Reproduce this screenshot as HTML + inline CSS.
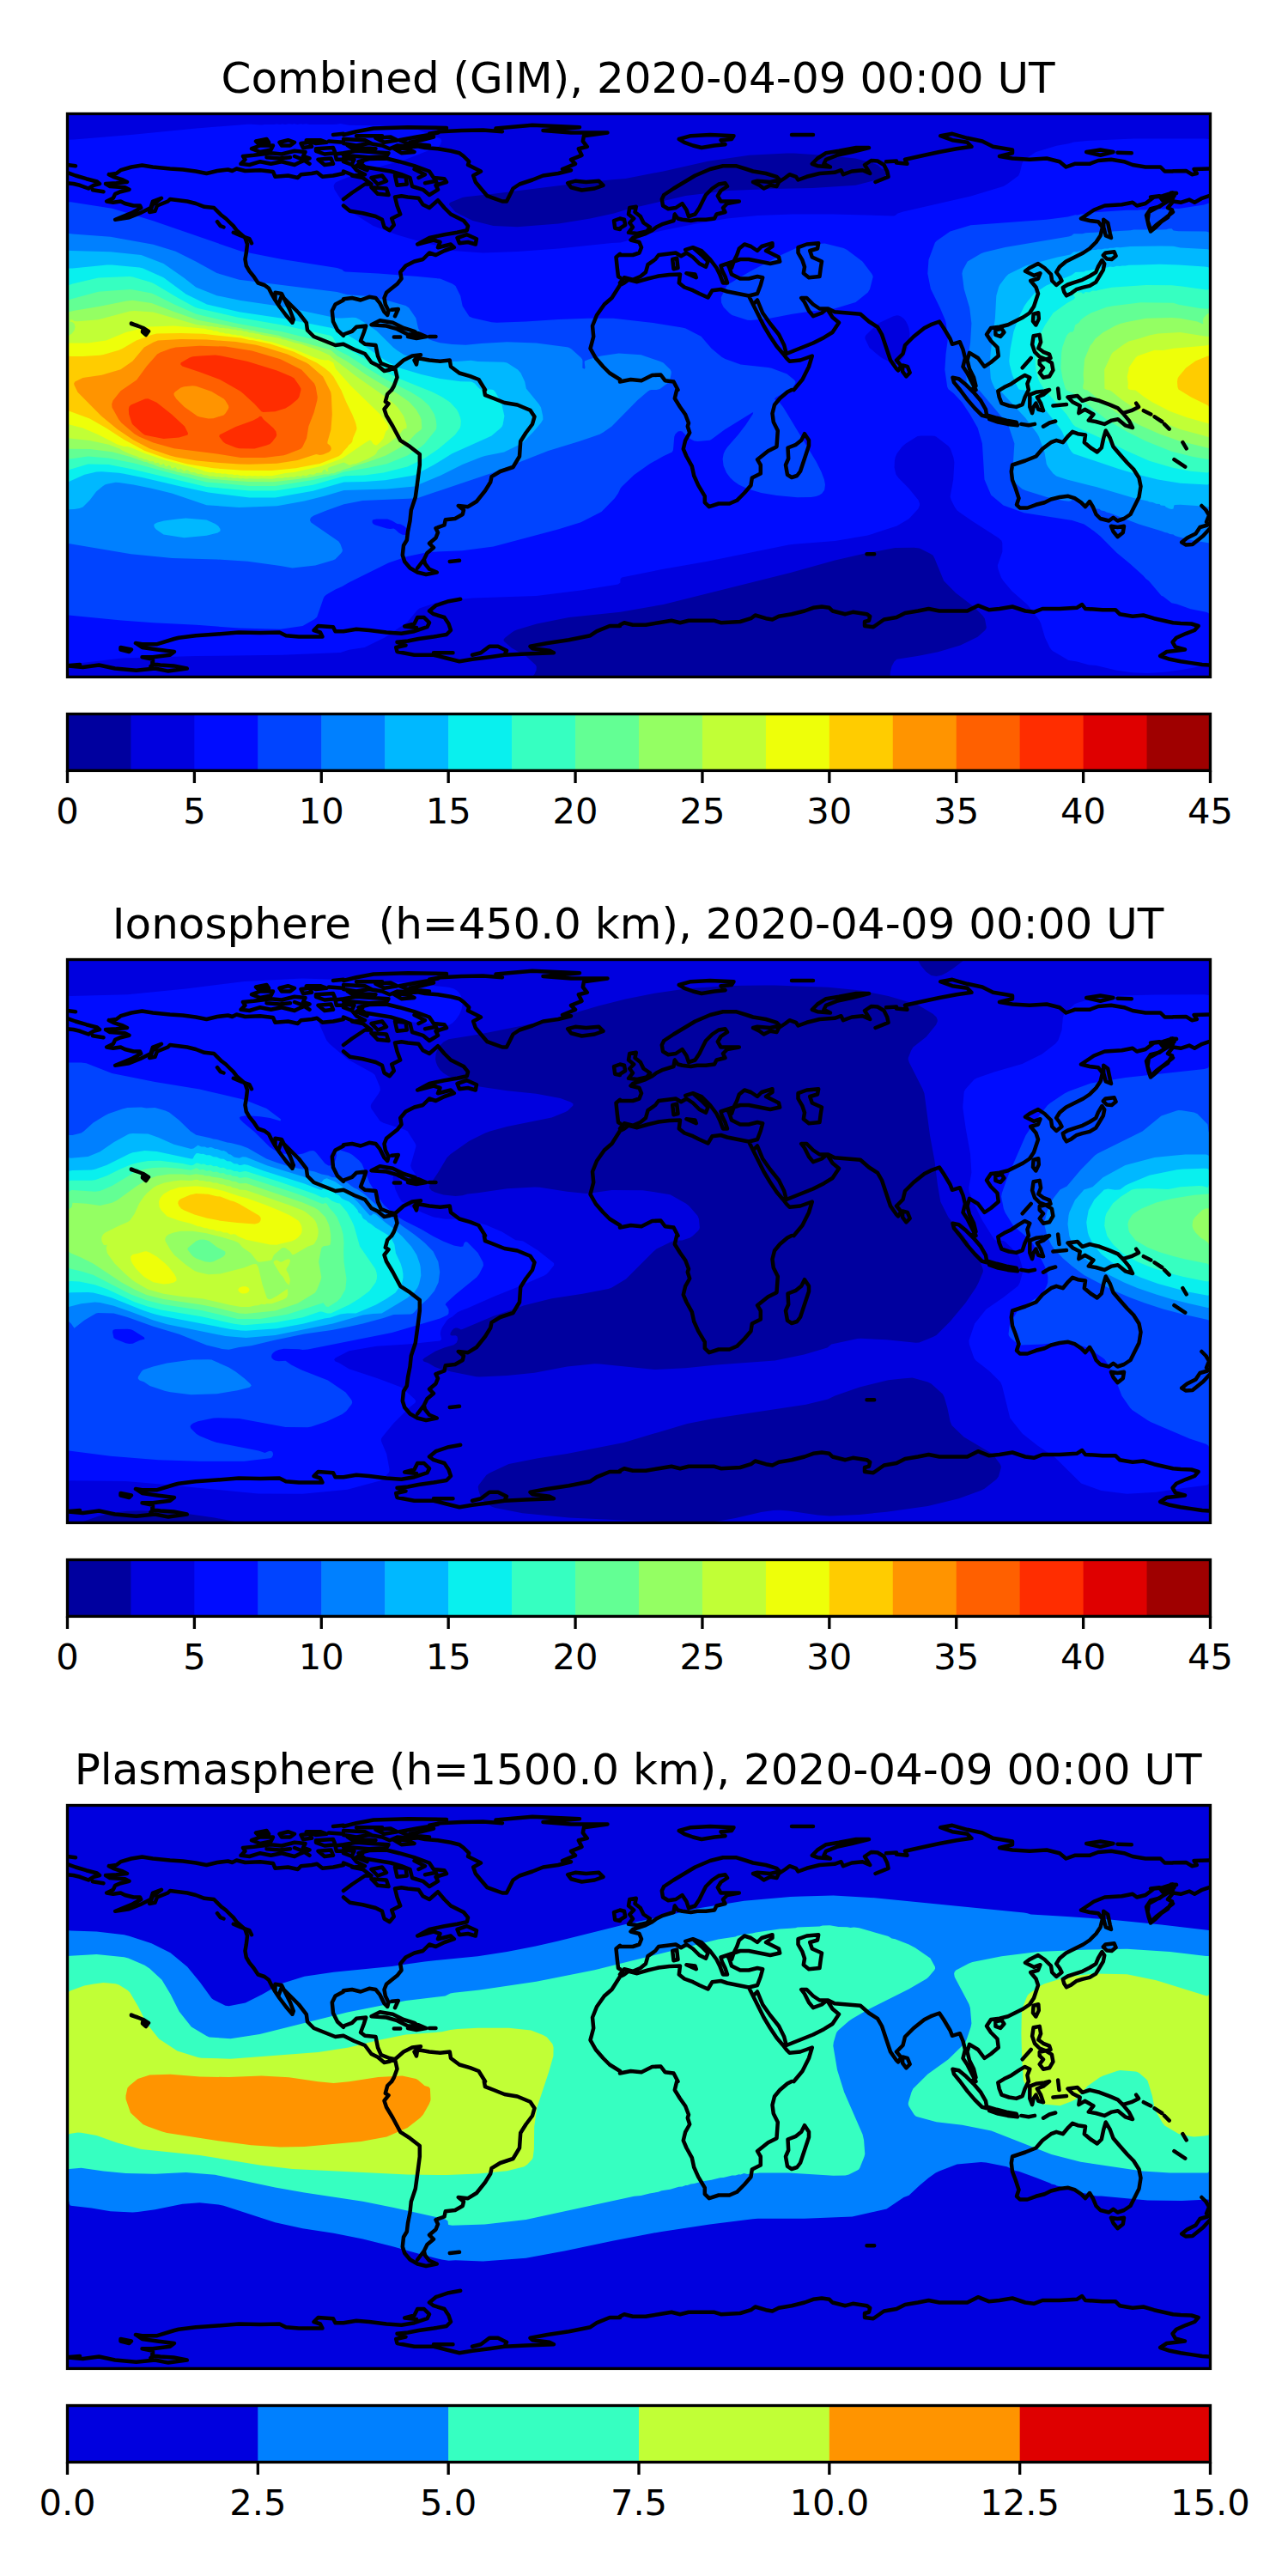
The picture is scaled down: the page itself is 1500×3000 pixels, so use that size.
<!DOCTYPE html>
<html><head><meta charset="utf-8"><title>TEC maps</title>
<style>html,body{margin:0;padding:0;background:#fff}svg{display:block}text{font-family:"DejaVu Sans","Liberation Sans",sans-serif;fill:#000;text-anchor:middle}.tt{font-size:50px}.tk{font-size:41.67px}</style></head><body>
<svg width="1500" height="3000" viewBox="0 0 1500 3000">
<rect width="1500" height="3000" fill="#fff"/>
<defs><clipPath id="mc"><rect x="78.5" y="132.5" width="1331.0" height="655.9"/></clipPath>
<g id="coast" fill="none" stroke="#000" stroke-width="4.5" stroke-linejoin="round" stroke-linecap="round"><path d="M78.0,192.0 88.0,193.2M78.0,200.8 88.0,204.5 100.5,208.2 113.0,211.5 116.0,214.0 109.2,215.8 103.0,219.5 93.0,215.8 85.5,214.0 78.0,213.2M108.0,221.2 120.5,223.2M126.8,203.2 135.5,202.0 140.5,198.2 153.0,194.5 165.5,192.5 178.0,194.5 198.0,196.5 213.0,197.5 228.0,199.5 240.5,202.0 253.0,199.0 265.5,197.5 270.5,199.0 275.5,196.5 285.5,199.0 303.0,198.2 318.0,200.0 320.5,205.8 335.5,204.5 346.8,207.0 350.5,203.2 363.0,202.0 369.2,200.8 375.5,205.8 388.0,204.5 400.0,202.0M126.8,203.2 131.8,205.8 143.0,209.5 148.0,212.0 135.5,213.2 123.0,214.0 128.0,217.0 145.5,218.2 150.5,220.8 140.5,223.2 134.2,225.8 131.8,230.8 124.2,234.5 131.8,235.8 140.5,234.5 145.5,237.0 155.5,239.5 163.0,239.5 164.2,242.0 153.0,248.2 134.2,255.8 150.5,253.2 163.0,248.2 175.5,242.0 178.0,234.5 188.0,230.8 183.0,234.5 178.0,238.2 174.2,247.0 180.5,245.8 183.0,239.5 195.5,234.5 198.0,232.0 208.0,233.2 218.0,234.5 228.0,237.0 238.0,240.8 249.2,242.0 253.0,245.8 258.0,250.8 263.0,254.5 268.0,259.5 271.8,263.2 275.5,268.2 285.5,277.0 288.0,284.5 286.8,294.5 285.5,302.0 286.8,309.5 290.5,315.8 295.5,322.0 300.5,329.5 308.0,332.0 313.0,335.8 316.8,343.2 320.5,349.5 324.2,354.5M324.2,354.5 328.0,344.5 338.0,354.5 348.0,364.5 356.8,375.8 358.0,384.5 365.5,392.0 378.0,397.0 390.5,402.0 400.0,400.8M320.5,340.8 328.0,342.0 333.0,352.0 338.0,362.0 341.8,372.0 340.5,375.8 333.0,367.0 325.5,357.0 320.5,349.5ZM400.0,349.5 390.5,354.5 386.8,362.0 388.0,374.5 393.0,384.5 400.0,390.8M253.0,258.2 256.8,263.2 260.5,264.5M271.8,270.8 280.5,274.5 290.5,278.2 293.0,283.2M153.0,377.0 160.5,379.5 166.8,382.0 171.8,387.0 169.2,389.5M293.0,173.2 303.0,169.5 318.0,169.5 315.5,174.5 303.0,177.0ZM283.0,182.0 295.5,180.8 315.5,178.2 328.0,179.5 343.0,175.8 355.5,177.0 353.0,182.0 360.5,184.5 348.0,189.5 343.0,192.0 328.0,188.2 315.5,190.8 303.0,188.2 290.5,192.0 280.5,190.8 285.5,185.8ZM325.5,165.8 335.5,163.2 343.0,165.8 338.0,169.5 328.0,169.5ZM356.8,163.2 373.0,163.2 380.5,165.8 368.0,167.0ZM368.0,173.2 388.0,172.0 390.5,178.2 378.0,179.5 368.0,175.8ZM388.0,157.0 400.0,155.8M383.0,164.5 400.0,165.8M370.5,185.8 385.5,184.5 388.0,190.8 378.0,192.0ZM577.5,149.5 620.0,145.8 675.0,148.2 632.5,152.0 665.0,154.5 707.5,154.5 680.0,158.2 678.8,164.5 683.8,170.8 673.8,173.2 677.5,180.8 665.0,185.8 670.0,190.8 655.0,197.0 665.0,198.2 650.0,202.0 632.5,204.5 620.0,209.5 605.0,214.5 597.5,219.5 593.8,227.0 590.0,234.5 585.0,234.5 575.0,230.8 567.5,228.2 560.0,219.5 553.8,212.0 551.2,204.5 560.0,199.5 552.5,195.8 545.0,192.0 546.2,188.2 540.0,182.0 535.0,178.2 525.0,175.8 510.0,173.2 495.0,172.0 482.5,169.5 477.5,165.8 490.0,163.2 505.0,159.5 500.0,155.8 512.5,153.2 537.5,152.0 562.5,151.5 585.0,153.2ZM661.2,213.2 670.0,210.8 682.5,212.0 697.5,210.8 702.5,215.8 692.5,219.5 677.5,221.5 665.0,218.2ZM400.0,157.0 415.0,153.2 435.0,149.5 475.0,148.2 520.0,149.0 510.0,154.5 500.0,157.0 485.0,159.5 465.0,163.2 475.0,167.0 500.0,169.5 482.5,170.8 462.5,169.5 453.8,173.2 445.0,169.5 430.0,167.0 415.0,169.5 400.0,167.0M415.0,158.2 445.0,158.2M400.0,162.0 425.0,163.2 432.5,167.0M400.0,178.2 415.0,175.8 432.5,177.0 452.5,178.2 450.0,182.0 430.0,183.2 415.0,182.0 400.0,180.8M417.5,188.2 430.0,185.0 450.0,184.5 465.0,188.2 482.5,193.2 500.0,199.5 505.0,207.0 517.5,208.2 520.0,212.0 507.5,215.8 510.0,220.8 500.0,227.0 492.5,220.8 480.0,217.0 477.5,207.0 467.5,203.2 455.0,199.5 440.0,197.0 425.0,194.5ZM400.0,188.2 410.0,192.0 415.0,198.2 425.0,203.2 412.5,204.5 400.0,199.5M432.5,207.0 445.0,204.5 450.0,210.8 440.0,214.5ZM460.0,204.5 472.5,205.8 473.8,214.5 462.5,215.8ZM432.5,218.2 450.0,219.5 452.5,227.0 440.0,225.8ZM495.0,213.2 507.5,210.8 510.0,215.8M400.0,239.5 407.5,245.8 422.5,248.2 437.5,252.0 445.0,255.8 447.5,264.5 453.8,268.2 458.8,262.0 456.2,254.5 466.2,249.5 462.5,239.5 460.0,229.5 467.5,228.2 475.0,229.5 487.5,230.8 492.5,238.2 500.0,242.0 510.0,233.2 517.5,242.0 525.0,249.5 540.0,257.0 545.0,263.2 543.8,268.2 532.5,270.8 517.5,273.2 500.0,277.0 486.2,284.5 505.0,279.5 512.5,282.0 510.0,288.2 525.0,284.5 528.8,288.2 517.5,292.0 507.5,297.0 500.0,294.5 492.5,302.0 482.5,304.5 472.5,309.5 466.2,317.0 467.5,324.5 462.5,330.8 456.2,335.8 450.0,340.8 447.5,347.0 448.8,354.5 452.5,362.0 451.2,367.0 447.5,363.2 442.5,353.2 437.5,347.0 430.0,345.8 420.0,349.5 410.0,347.0 400.0,348.2M400.0,232.0 410.0,224.5 425.0,214.5 432.5,214.5 422.5,207.0 410.0,204.5M532.5,277.0 543.8,273.2 555.0,278.2 553.8,284.5 545.0,282.0 535.0,283.2ZM432.5,378.2 442.5,373.2 457.5,375.8 470.0,382.0 482.5,385.8 487.5,389.5 475.0,389.5 462.5,383.2 450.0,379.5ZM475.0,392.0 487.5,388.2 496.2,392.0 485.0,394.0ZM500.0,392.0 507.5,392.0M458.8,392.5 466.2,392.5M456.2,360.8 463.8,360.0 460.0,368.2M400.0,389.5 410.0,385.8 415.0,380.8 426.2,379.5 423.8,387.0 420.0,397.0 425.0,400.8 437.5,402.0 440.0,414.5 443.8,423.2 453.8,427.0 460.0,428.2 470.0,419.5 480.0,414.5 490.0,413.2 482.5,419.5 485.0,424.5 486.2,417.0 500.0,419.5 512.5,420.8 523.8,419.5 525.0,427.0 535.0,434.5 547.5,438.2 557.5,442.0 565.0,454.0M400.0,400.8 412.5,407.0 425.0,412.0 432.5,422.0 440.0,425.8 447.5,432.0 453.8,430.8 460.0,428.2 462.5,439.5 458.8,449.5 456.2,454.0M722.0,332.0 712.5,347.0 703.8,354.5 695.0,367.0 690.0,379.5 691.2,392.0 687.5,405.8 693.8,417.0 702.5,427.0 710.0,434.5 722.0,442.0M722.0,295.8 717.5,299.5 718.8,312.0 720.0,322.0 722.0,323.2M722.0,254.5 715.0,257.0 716.2,265.8 722.0,267.0M790.8,162.0 804.5,158.2 827.0,157.0 854.5,158.2 852.0,162.0 839.5,163.2 844.5,168.2 832.0,169.5 817.0,172.0 807.0,169.5 797.0,165.8ZM922.0,157.0 947.0,157.0M1012.0,172.0 997.0,172.0 977.0,175.8 962.0,178.2 952.0,184.5 945.8,190.8 952.0,193.2 967.0,194.5 959.5,190.8 962.0,185.8 974.5,180.8 992.0,177.0ZM773.2,227.0 784.5,219.5 797.0,212.0 809.5,204.5 827.0,197.0 842.0,193.2 857.0,193.2 869.5,197.0 877.0,199.5 892.0,202.0 904.5,205.8 908.2,209.5 897.0,212.0 882.0,210.8 877.0,212.0 884.5,215.8 889.5,219.5 897.0,215.8 904.5,217.0 907.0,212.0 914.5,207.0 919.5,203.2 927.0,205.8 929.5,209.5 939.5,205.8 954.5,202.0 972.0,200.8 979.5,198.2 982.0,203.2 992.0,199.5 1004.5,198.2 1013.2,202.0 1007.0,192.0 1014.5,187.0 1022.0,187.5 1029.5,192.0 1033.2,199.5 1034.5,205.8 1019.5,212.0M1032.0,188.2 1044.0,187.5M773.2,227.0 770.8,232.0 772.0,239.5 778.2,243.2 787.0,242.0 794.5,237.0 799.5,244.5 802.0,252.0 809.5,249.5 814.5,242.0 818.2,234.5 822.0,227.0 829.5,219.5 837.0,214.5 844.5,213.2 847.0,217.0 839.5,222.0 835.8,228.2 839.5,234.5 847.0,234.5 860.8,234.5 847.0,237.0 842.0,242.0 844.5,247.0 834.5,249.5 832.0,254.5 822.0,255.8 812.0,255.8 804.5,257.0 794.5,255.8 789.5,254.5 785.8,249.5 784.5,257.0 772.0,260.8 764.5,264.5 759.5,268.2 752.0,272.0 744.5,274.5 737.0,277.0 734.5,279.5 744.5,282.0 747.0,288.2 744.5,294.5 737.0,297.0 722.0,297.0M733.2,242.0 740.8,240.8 739.5,247.0 745.8,252.0 749.5,259.5 757.0,264.5 753.2,269.5 742.0,272.0 732.0,270.8 737.0,264.5 733.2,259.5 738.2,254.5 732.0,249.5ZM722.0,254.5 727.0,255.8 728.2,262.0 722.0,265.8M722.0,329.5 727.0,323.2 737.0,325.8 745.8,322.0 752.0,317.0 754.5,308.2 763.2,302.0 767.0,297.0 777.0,295.8 787.0,294.5 793.2,298.2 799.5,294.5 807.0,299.5 814.5,307.0 822.0,310.8 824.5,304.5 817.0,297.0 807.0,288.2 798.2,290.8M807.0,288.2 817.0,292.0 827.0,302.0 834.5,312.0 838.2,319.5 842.0,329.5 847.0,329.5 844.5,322.0 840.8,314.5 839.5,309.5 847.0,307.0 852.0,312.0 854.5,304.5M799.5,318.2 809.5,319.5 810.8,323.2ZM783.2,302.0 788.2,300.8 789.5,312.0 784.5,313.2ZM854.5,304.5 862.0,302.0 872.0,302.0 884.5,304.5 897.0,307.0 908.2,304.5 907.0,299.5 897.0,294.5 892.0,292.0 899.5,287.0 899.5,283.2 887.0,287.0 882.0,292.0 874.5,287.0 867.0,284.5 860.8,289.5 858.2,297.0ZM854.5,304.5 847.0,307.0 849.5,312.0 852.0,319.5 862.0,324.5 872.0,324.5 882.0,322.0 888.2,323.2 885.8,332.0 882.0,342.0 872.0,344.5 862.0,342.5 847.0,339.5 839.5,337.0 829.5,338.2 824.5,346.5 814.5,342.0 807.0,338.2 797.0,334.5 790.8,329.5 792.0,319.5 779.5,320.0 767.0,321.5 754.5,324.5 742.0,328.2 732.0,325.8 727.0,329.5 722.0,332.0M929.5,288.2 939.5,284.5 953.2,283.2 952.0,289.5 943.2,292.0 945.8,299.5 957.0,304.5 955.8,312.0 954.5,322.0 942.0,323.2 935.8,318.2 937.0,310.8 934.5,303.2 929.5,294.5ZM872.0,344.5 874.5,349.5 882.0,364.5 889.5,379.5 897.0,392.0 904.5,403.2 912.0,412.0 915.8,417.0 919.5,420.8 932.0,419.5 945.8,414.5 942.0,427.0 934.5,442.0 924.5,454.0M872.0,344.5 877.0,354.5 882.0,349.5 888.2,364.5 897.0,377.0 907.0,389.5 913.2,402.0 915.8,412.0 922.0,409.5 934.5,404.5 947.0,399.5 959.5,393.2 969.5,387.0 977.0,375.8 969.5,369.5 963.2,359.5 957.0,364.5 947.0,368.2 942.0,362.0 937.0,352.0 933.2,347.0 939.5,347.0 947.0,354.5 954.5,359.5 964.5,359.5 972.0,363.2 987.0,364.5 1002.0,365.8 1012.0,374.5 1022.0,380.8 1027.0,389.5 1032.0,404.5 1037.0,419.5 1044.0,429.5M722.0,444.5 734.5,442.0 747.0,443.2 759.5,437.0 769.5,436.5 774.5,443.2 784.5,444.5 789.5,454.0M1044.0,189.5 1056.5,190.8 1054.0,185.8 1076.5,180.8 1094.0,177.0 1114.0,173.2 1131.5,170.8 1126.5,165.8 1109.0,163.2 1095.2,158.2 1109.0,155.8 1126.5,160.8 1144.0,164.5 1156.5,170.8 1179.0,174.5 1179.0,178.2 1164.0,182.0 1179.0,184.5 1199.0,185.8 1219.0,184.5 1234.0,188.2 1241.5,194.5 1251.5,190.8 1269.0,190.8 1279.0,187.0 1294.0,185.8 1309.0,188.2 1319.0,192.0 1334.0,194.5 1351.5,194.5 1356.5,199.5 1366.0,199.5M1265.2,177.0 1281.5,174.5 1296.5,177.0 1281.5,180.8ZM1301.5,177.8 1317.8,178.2M1259.0,254.5 1274.0,244.5 1286.5,239.5 1306.5,238.2 1319.0,235.8 1324.0,239.5 1334.0,237.0 1344.0,229.5 1354.0,228.2 1366.0,224.5M1366.0,230.8 1351.5,239.5 1337.8,247.0 1336.5,257.0 1340.2,268.2 1346.5,262.0 1356.5,254.5 1366.0,247.0M1259.0,254.5 1269.0,257.0 1279.0,258.2 1284.0,264.5 1281.5,274.5 1276.5,282.0 1269.0,289.5 1261.5,294.5 1251.5,299.5 1241.5,304.5 1234.0,310.8 1230.2,317.0 1234.0,322.0 1236.5,327.0 1230.2,332.0 1225.2,327.0 1224.0,319.5 1216.5,312.0 1209.0,307.0 1199.0,312.0 1194.0,315.8 1204.0,320.8 1211.5,318.2 1209.0,324.5 1200.2,327.0 1206.5,334.5 1209.0,342.0 1206.5,349.5 1204.0,357.0 1199.0,364.5 1191.5,369.5 1181.5,374.5 1174.0,378.2 1164.0,380.8 1154.0,382.0 1149.0,389.5 1154.0,397.0 1161.5,404.5 1162.8,414.5 1154.0,422.0 1146.5,427.0 1139.0,417.0 1129.0,410.8 1126.5,419.5 1129.0,429.5 1134.0,439.5 1136.5,449.5 1131.5,454.0M1285.2,255.8 1290.2,259.5 1292.8,272.0 1294.0,277.0 1287.8,274.5 1285.2,264.5ZM1044.0,419.5 1051.5,412.0 1054.0,402.0 1064.0,392.0 1076.5,382.0 1084.0,378.2 1094.0,374.5 1099.0,382.0 1106.5,394.5 1109.0,400.8 1117.8,398.2 1121.5,407.0 1124.0,417.0 1121.5,427.0 1126.5,434.5 1131.5,444.5 1136.5,454.0M1366.0,199.2 1381.2,198.9 1388.1,203.2 1393.8,202.0 1390.6,197.0 1408.1,196.4M1370.0,225.1 1363.8,224.5 1360.0,229.5 1367.5,228.2 1350.0,240.8 1340.0,243.2 1335.0,250.8 1337.5,262.0 1340.0,269.5 1346.2,264.5 1352.5,258.2 1360.0,253.2 1365.0,244.5 1360.0,242.0 1366.2,234.5 1375.0,235.8 1385.0,232.6 1391.2,235.8 1400.0,230.8 1408.1,228.2M1370.0,225.1 1353.8,233.2 1350.0,228.2 1340.0,229.5M158.0,749.0 165.5,750.2 183.0,750.2 203.0,744.0 208.0,742.8 228.0,740.2 253.0,738.5 278.0,736.5 303.0,737.0 325.5,736.5 333.0,740.2 348.0,741.5 365.5,741.5 375.5,741.5 373.0,736.5 365.5,734.0 370.5,729.0 388.0,730.2 390.5,735.2 400.0,735.2M158.0,749.0 165.5,754.0 183.0,756.5 203.0,759.0 198.0,762.8 178.0,765.2 165.5,765.2 178.0,767.8 178.0,774.0 175.5,776.0M140.5,754.0 153.0,756.5 150.5,759.0 140.5,756.5ZM78.0,775.2 93.0,774.0M456.2,454.0 451.2,459.0 448.8,467.8 452.5,470.2 447.5,476.5 450.0,484.0 457.5,496.5 466.2,512.8 477.5,520.2 488.8,529.0 488.8,541.5 486.2,561.5 483.8,579.0 478.8,594.0 477.5,606.5 475.0,619.0 473.8,629.0 470.0,635.2 468.8,646.5 471.2,654.0 477.5,661.5 486.2,666.5 496.2,669.0 508.8,666.5 500.0,662.8 495.0,656.5 493.8,651.5 486.2,661.5M493.8,651.5 497.5,644.0 505.0,637.8 500.0,632.8 507.5,626.5 510.0,620.2 507.5,615.2 517.5,611.5 518.8,605.2 530.0,604.0 538.8,599.0 540.0,594.0 533.8,589.0 545.0,590.2 555.0,584.0 565.0,571.5 571.2,561.5 572.5,555.2 582.5,549.0 597.5,544.0 605.0,531.5 606.2,514.0 612.5,504.0 620.0,494.0 622.5,485.2 617.5,477.8 602.5,471.5 587.5,469.0 575.0,464.0 565.0,460.2 563.8,454.0M523.8,654.0 535.0,652.8M400.0,735.2 415.0,732.8 430.0,734.0 450.0,736.5 467.5,737.8 482.5,735.2 497.5,730.2 500.0,725.2 493.8,719.0 486.2,719.0 482.5,726.5 471.2,729.5 485.0,731.0M536.2,697.8 522.5,700.2 507.5,705.2 500.0,711.5 505.0,715.2 517.5,719.0 522.5,726.5 525.0,734.0 520.0,739.0 505.0,741.5 487.5,744.0 475.0,746.5 462.5,747.8 472.5,751.5 461.2,754.0 462.5,759.0 482.5,762.8 505.0,762.8 520.0,766.5 535.0,770.2 550.0,767.8 570.0,765.2 587.5,762.8 590.0,757.8 580.0,752.8 570.0,752.8 560.0,760.2 550.0,762.8M587.5,762.8 612.5,761.5 645.0,760.2 640.0,757.8 620.0,755.2 617.5,752.8 637.5,749.0 662.5,745.2 687.5,740.2 695.0,735.2 710.0,729.0 722.0,729.0M505.0,760.2 527.5,760.2M788.2,454.0 785.8,464.0 792.0,474.0 798.2,482.8 802.0,492.8 800.8,496.5 803.2,504.0 798.2,512.8 795.8,522.8 799.5,531.5 805.8,542.8 808.2,554.0 813.2,565.2 820.8,577.8 820.8,585.2 825.8,590.2 837.0,586.5 849.5,586.5 858.2,582.8 867.0,574.0 874.5,565.2 875.8,556.5 885.8,551.5 885.8,541.5 882.0,535.2 894.5,525.2 904.5,520.2 905.8,501.5 900.8,491.5 899.5,481.5 902.0,471.5 908.2,464.0 917.0,456.5 922.0,454.0M937.0,505.2 942.0,512.8 942.0,519.0 937.0,534.0 932.0,549.0 928.2,554.0 922.0,556.0 917.0,552.8 915.0,541.5 918.2,534.0 917.5,521.5 927.0,517.8 933.2,512.8ZM1009.5,645.2 1018.2,645.2M722.0,727.8 727.0,725.2 737.0,727.8 752.0,727.8 767.0,725.2 782.0,722.8 792.0,725.2 802.0,722.8 817.0,722.8 832.0,722.8 839.5,725.2 862.0,724.0 874.5,720.2 879.5,716.5 892.0,720.2 899.5,721.5 907.0,717.8 922.0,715.2 937.0,711.5 947.0,707.8 957.0,706.5 965.8,707.8 969.5,711.5 984.5,715.2 993.2,712.8 1009.5,715.2 1013.2,717.8 1012.0,722.8 1007.0,724.0 1007.0,729.0 1017.0,730.2 1029.5,721.5 1044.0,719.0M1179.0,541.5 1194.0,536.5 1206.5,531.5 1214.0,522.8 1224.0,515.2 1230.2,512.8 1237.8,515.2 1244.0,507.8 1249.0,502.8 1255.2,505.2 1264.0,506.5 1262.8,515.2 1270.2,521.5 1277.8,526.5 1282.8,521.5 1285.2,510.2 1287.8,501.5 1292.8,510.2 1296.5,520.2 1304.0,529.0 1312.8,539.0 1320.2,546.5 1326.5,556.5 1328.5,566.5 1326.5,579.0 1321.5,589.0 1316.5,599.0 1309.0,604.0 1301.5,606.5 1296.5,602.8 1291.5,606.5 1281.5,604.0 1276.5,599.0 1272.8,590.2 1269.0,584.0 1264.0,590.2 1259.0,585.2 1251.5,580.2 1244.0,577.8 1234.0,579.0 1224.0,581.5 1216.5,585.2 1206.5,587.8 1196.5,591.5 1187.8,591.5 1184.0,587.8 1186.5,580.2 1182.8,569.0 1179.0,559.0 1177.8,549.0ZM1294.0,612.8 1301.5,614.0 1309.0,612.8 1307.8,620.2 1301.5,625.2 1296.5,619.0ZM1044.0,719.0 1054.0,714.0 1069.0,711.5 1081.5,709.0 1094.0,711.5 1114.0,711.5 1126.5,711.5 1139.0,705.2 1151.5,710.2 1164.0,709.0 1179.0,706.5 1194.0,711.5 1204.0,712.8 1214.0,709.0 1234.0,709.0 1254.0,707.8 1260.2,704.0 1264.0,709.0 1284.0,710.2 1299.0,710.2 1304.0,715.2 1319.0,717.8 1331.5,716.5 1344.0,720.2 1366.0,725.2M1399.4,589.0 1404.4,594.0 1408.1,600.2 1405.0,607.8 1408.1,610.2M1406.2,611.5 1397.5,614.0 1392.5,621.5 1382.5,626.5 1376.2,631.5 1381.2,634.6 1388.8,634.0 1395.0,629.0 1401.2,624.0 1408.1,616.5M1366.0,725.2 1375.0,725.9 1387.5,726.5 1395.6,729.0 1391.2,734.0 1381.2,737.8 1370.0,742.8 1365.6,747.8 1368.8,753.4 1380.0,756.5 1370.0,757.8 1358.8,759.0 1351.2,764.0 1362.5,767.8 1375.0,770.2 1387.5,772.1 1400.0,774.0 1408.1,774.6M1287.6,294.4 1297.6,293.3 1299.6,298.1 1294.7,302.1 1289.0,301.5 1284.8,297.3ZM1283.4,303.0 1279.1,310.1 1276.2,317.2 1269.1,321.5 1260.6,325.8 1252.0,328.6 1243.5,331.5 1237.8,334.9 1239.2,340.0 1242.0,344.3 1247.7,341.4 1253.4,337.2 1260.6,334.9 1269.1,332.9 1276.2,328.6 1280.5,321.5 1284.8,314.4 1286.2,307.2ZM1203.6,365.7 1209.3,364.2 1209.8,371.4 1206.4,378.5 1203.0,374.2ZM1159.4,384.2 1166.5,382.7 1169.4,387.0 1165.1,391.9 1159.4,389.9ZM1203.6,391.3 1210.7,389.9 1212.1,398.4 1209.3,405.5 1215.0,409.8 1222.1,412.7 1223.5,416.9 1217.8,418.4 1210.7,415.5 1205.0,409.8 1202.1,401.3ZM1210.7,419.8 1217.8,418.4 1224.9,422.6 1226.4,431.2 1222.1,438.3 1215.0,439.7 1210.7,434.0 1215.0,428.3 1210.7,424.1ZM1190.7,428.3 1200.7,416.9M1162.3,455.4 1169.4,451.1 1177.9,446.9 1186.5,441.2 1193.6,436.9 1199.3,439.7 1196.4,446.9 1197.9,454.0 1193.6,462.5 1190.7,471.1 1183.6,473.9 1175.1,472.5 1166.5,469.7 1163.7,462.5ZM1199.3,459.7 1206.4,456.8 1216.4,455.4 1222.1,454.0 1215.0,459.7 1207.8,462.5 1212.1,469.7 1215.0,478.2 1209.3,476.8 1206.4,469.7 1203.6,473.9 1202.1,481.1 1199.3,473.9ZM1109.5,439.7 1116.7,441.2 1125.2,448.3 1133.8,456.8 1142.3,466.8 1148.0,476.8 1149.4,485.3 1143.7,483.9 1135.2,475.4 1126.6,465.4 1118.1,454.0 1111.0,445.4ZM1150.9,483.9 1160.8,486.8 1172.2,489.6 1183.6,491.6 1185.0,495.3 1173.6,493.9 1162.3,491.6 1152.3,488.2ZM1189.3,493.9 1197.9,495.3 1205.0,493.9M1215.0,496.7 1222.1,492.5 1229.2,490.5M1232.1,452.6 1233.5,464.0M1226.4,472.5 1242.0,471.1M1243.5,462.5 1254.9,461.1 1260.6,466.8 1269.1,464.0 1280.5,466.8 1291.9,471.1 1301.9,475.4 1307.6,481.1 1314.7,489.6 1319.0,498.1 1310.4,495.3 1301.9,488.2 1294.7,489.6 1286.2,493.9 1276.2,491.0 1267.7,489.6 1273.4,482.5 1263.4,476.8 1256.3,481.1 1257.7,472.5 1249.2,468.2ZM1307.6,481.1 1317.5,478.2 1326.1,473.9 1323.2,469.7M1331.8,478.2 1340.3,482.5M1344.6,485.3 1353.2,491.0M1356.0,493.9 1361.7,499.6M1377.4,515.2 1381.7,522.4M1367.4,535.2 1380.2,543.7M1051.1,425.5 1056.8,426.9 1059.7,434.0 1055.4,438.3 1051.1,432.6ZM79.6,775.4 96.6,777.0 115.3,774.5 133.9,778.5 158.7,780.7 180.5,778.5 196.0,781.6 217.8,778.5 202.2,775.4 186.7,774.5 177.4,773.2 177.4,767.6M1044.0,429.5 1046.0,431.5 1049.5,426.0 1044.0,419.5M298.0,164.5 310.5,162.0 313.0,165.8 300.5,167.0ZM350.5,167.0 360.5,165.8 363.0,170.8 353.0,172.0ZM390.5,179.5 400.0,178.2 403.0,185.8 391.8,185.8ZM343.0,182.0 353.0,185.8 360.5,190.8M310.5,183.2 325.5,184.5 338.0,183.2M166.8,382.0 173.0,385.8 170.0,390.0 166.0,386.5ZM153.0,376.5 157.5,378.5M160.0,379.5 164.2,381.0M405.0,169.5 420.0,172.0 437.5,173.2 430.0,175.8 412.5,174.5ZM437.5,160.8 455.0,159.5 462.5,163.2 447.5,165.8ZM457.5,172.0 475.0,173.2 482.5,177.0 467.5,178.2ZM400.0,184.5 412.5,185.8 410.0,190.8M422.5,188.2 415.0,193.2 427.5,198.2M482.5,197.0 495.0,203.2 487.5,207.0"/></g></defs>
<g transform="translate(0,0.0)">
<g clip-path="url(#mc)"><rect x="78.5" y="132.5" width="1331.0" height="655.9" fill="#00009f"/>
<path fill="#0000df" fill-rule="evenodd" d="M76.5,130.5 1410.5,130.5 1410.5,788.5 1036.5,788.5 1036.9,782.5 1038.5,775.9 1041.4,770.5 1044.5,767.8 1068.5,764.1 1092.5,759.3 1118.5,751.6 1138.5,741.7 1146.7,734.5 1148.3,732.5 1148.8,730.5 1146.9,720.5 1144.5,716.9 1133.9,706.5 1113.0,690.5 1099.2,676.5 1088.5,650.4 1086.5,646.8 1082.9,644.5 1070.8,638.5 1064.5,637.7 1042.5,638.0 1007.4,644.5 972.5,652.6 920.5,666.9 772.5,703.9 722.5,712.7 662.5,719.1 625.2,726.5 602.5,733.3 599.3,734.5 596.2,736.5 588.4,742.5 586.6,744.5 586.6,746.5 595.7,754.5 612.5,764.1 623.9,774.5 624.8,776.5 624.6,780.5 622.5,785.0 619.5,788.5 76.5,788.5ZM916.5,178.5 872.5,180.7 824.5,187.8 772.5,199.4 728.5,208.1 712.5,209.2 676.5,213.1 576.5,225.6 542.5,229.2 538.5,230.1 524.5,235.7 523.3,236.5 523.1,238.5 530.5,247.1 550.5,257.1 574.5,263.1 602.5,264.3 650.5,260.6 687.3,254.5 715.0,248.5 730.5,243.7 798.5,228.0 848.5,221.9 898.5,219.9 946.5,219.0 996.5,215.7 1022.5,209.1 1031.2,204.5 1032.6,202.5 1032.8,200.5 1032.0,198.5 1030.5,197.4 1026.9,196.5 1022.5,192.3 1018.5,190.7 996.5,184.4 958.5,180.7 924.5,178.4Z"/>
<path fill="#000cff" fill-rule="evenodd" d="M322.4,144.5 326.5,145.0 328.5,144.4 332.5,144.9 336.5,144.3 340.5,144.8 342.5,144.3 346.5,144.9 350.5,144.2 352.5,144.8 356.5,144.3 360.5,144.9 386.5,144.9 392.5,144.8 396.5,143.9 406.5,145.8 442.5,146.2 486.5,150.8 506.5,159.3 512.5,161.1 513.8,162.5 514.3,164.5 512.9,168.5 510.5,170.9 470.5,186.4 424.5,198.7 394.5,210.8 390.9,212.5 389.3,214.5 388.6,216.5 389.4,220.5 397.1,232.5 408.4,246.5 434.5,262.9 462.5,273.6 486.4,280.5 508.5,285.9 524.5,291.8 562.5,294.5 602.5,293.1 650.5,289.5 712.5,283.0 722.5,282.5 728.5,281.0 750.5,273.6 772.5,268.2 808.5,261.0 846.5,254.6 882.5,250.9 922.5,249.5 970.5,249.5 1040.5,251.5 1042.5,251.1 1045.6,248.5 1051.9,246.5 1130.5,228.5 1168.5,217.1 1172.8,214.5 1186.2,204.5 1187.9,200.5 1190.5,190.0 1192.5,186.3 1206.5,177.1 1230.5,169.8 1244.5,167.3 1250.5,165.4 1268.5,163.8 1320.5,161.6 1402.5,161.5 1406.5,161.8 1410.5,162.8 1410.5,773.8 1376.5,780.1 1356.5,782.8 1336.5,783.9 1318.5,783.2 1300.5,780.7 1276.5,774.9 1268.5,774.4 1254.5,770.5 1244.5,768.9 1226.6,758.5 1224.5,756.8 1222.5,753.9 1217.0,742.5 1212.3,726.5 1210.5,722.5 1196.9,704.5 1178.6,688.5 1168.5,676.5 1165.9,672.5 1162.4,662.5 1161.8,658.5 1167.4,642.5 1167.3,632.5 1166.5,629.8 1162.9,626.5 1132.5,607.1 1117.3,596.5 1114.5,594.3 1111.9,590.5 1107.8,582.5 1106.6,578.5 1110.2,558.5 1111.4,538.5 1110.5,533.0 1106.8,522.5 1104.5,519.6 1090.5,508.8 1088.5,507.8 1084.5,507.4 1072.5,507.6 1068.5,508.1 1054.5,516.8 1050.5,520.2 1044.5,528.2 1042.7,532.5 1041.9,536.5 1041.6,544.5 1043.4,552.5 1046.3,556.5 1058.2,568.5 1069.6,582.5 1071.0,586.5 1071.0,588.5 1069.4,592.5 1058.5,604.2 1044.5,612.5 1010.5,623.6 972.5,630.1 924.5,633.8 918.5,634.6 822.5,653.9 772.5,662.7 726.5,671.9 724.1,672.5 722.5,674.5 722.4,678.5 719.8,680.5 676.5,687.5 624.5,694.0 550.5,696.5 512.5,700.3 488.5,708.6 486.1,710.5 474.3,724.5 448.1,742.5 424.5,754.0 406.5,756.8 396.5,760.0 328.5,762.7 228.5,764.0 142.5,766.4 76.5,774.3 76.5,162.0 80.5,162.8 86.5,162.6 152.5,157.0 228.5,149.5 288.5,144.8 292.5,144.7 304.5,145.5 308.5,144.9 318.5,145.0ZM1040.5,368.3 1024.5,375.8 1020.5,378.4 1008.3,390.5 1007.4,392.5 1007.5,394.5 1012.5,404.9 1024.5,415.1 1028.5,417.8 1040.5,423.4 1042.5,424.2 1044.5,424.1 1046.5,423.0 1050.5,418.7 1056.0,408.5 1058.9,398.5 1059.5,388.5 1058.6,382.5 1057.2,378.5 1055.2,374.5 1052.5,371.1 1049.1,368.5 1046.5,367.5 1044.5,367.2Z"/>
<path fill="#0044ff" fill-rule="evenodd" d="M77.3,236.5 78.5,235.5 82.5,235.2 130.5,242.7 178.5,257.2 280.5,292.6 328.5,302.1 392.5,312.1 398.5,314.0 400.5,315.9 402.5,316.6 440.5,318.5 486.5,321.9 512.5,324.6 526.9,330.5 530.5,332.9 536.2,344.5 538.7,356.5 546.5,368.5 550.5,370.3 572.5,375.2 578.5,375.7 612.1,374.5 650.5,372.0 684.5,370.8 714.5,370.7 760.5,375.9 794.5,381.5 798.5,382.6 816.5,391.8 828.5,405.8 840.5,415.8 844.5,418.1 862.5,424.6 894.5,427.9 898.5,428.8 916.5,435.6 925.1,442.5 926.5,444.5 926.2,446.5 922.5,452.8 920.5,454.3 911.0,458.5 904.2,462.5 902.0,464.5 903.5,466.5 908.5,469.6 912.5,474.7 950.5,537.6 956.5,549.4 959.9,558.5 961.0,564.5 960.2,570.5 957.4,574.5 954.5,576.4 950.5,577.9 944.5,579.0 928.5,579.2 904.5,577.0 886.5,573.9 870.5,569.3 860.5,564.5 854.8,560.5 850.5,556.5 846.0,550.5 842.6,542.5 841.6,534.5 842.7,528.5 844.5,524.5 847.2,520.5 859.5,506.5 868.7,494.5 876.6,482.5 877.2,480.5 876.5,480.3 843.7,500.5 828.5,511.8 826.5,512.7 812.5,514.0 808.5,513.5 804.5,511.5 800.5,508.6 794.5,502.5 792.5,501.9 789.6,502.5 786.5,505.6 785.3,508.5 784.1,522.5 783.8,524.5 782.7,526.5 772.5,531.3 756.5,540.3 738.5,552.9 724.4,566.5 722.7,568.5 719.9,574.5 715.7,580.5 700.5,596.0 676.5,608.3 649.9,616.5 574.7,636.5 538.5,641.3 498.5,642.9 474.5,647.9 452.5,655.5 406.1,678.5 398.5,683.0 390.5,686.6 380.2,692.5 377.9,694.5 376.8,696.5 369.2,718.5 366.5,720.9 352.5,729.0 326.5,732.7 278.5,731.5 228.5,727.8 178.5,725.2 141.4,722.5 80.1,716.5 78.5,715.8 76.5,714.0 76.5,236.9ZM438.5,604.5 434.5,605.3 433.5,606.5 433.6,608.5 434.5,609.9 436.5,611.3 450.5,615.6 454.5,616.1 458.5,615.6 460.5,616.8 464.5,620.6 468.5,622.7 472.5,623.1 474.5,622.6 476.5,620.5 476.4,618.5 475.2,616.5 470.3,612.5 466.5,610.6 462.5,609.9 456.6,606.5 451.3,604.5ZM1408.3,236.5 1410.5,235.2 1410.5,716.3 1406.5,713.5 1404.5,712.8 1386.5,709.3 1370.5,703.4 1364.5,702.3 1354.5,694.6 1352.5,693.7 1337.9,676.5 1334.5,673.9 1331.5,670.5 1316.0,656.5 1300.5,643.8 1281.4,624.5 1274.1,618.5 1262.5,610.5 1248.5,606.0 1192.5,597.3 1168.5,588.6 1154.2,576.5 1146.5,558.5 1143.9,516.5 1138.7,498.5 1129.6,482.5 1120.3,468.5 1110.5,458.1 1104.5,453.2 1103.2,450.5 1100.3,430.5 1101.5,412.5 1103.9,394.5 1101.8,376.5 1100.7,372.5 1094.5,358.1 1083.9,336.5 1080.3,318.5 1081.5,302.5 1088.9,282.5 1090.8,280.5 1106.5,269.6 1130.5,262.3 1218.5,255.8 1243.5,252.5 1252.5,250.2 1254.9,250.5 1258.5,249.4 1268.5,248.6 1270.5,247.8 1278.5,247.0 1312.5,244.8 1324.5,244.7 1328.5,244.2 1332.5,244.5 1336.5,243.9 1340.5,244.2 1344.5,243.5 1348.5,243.9 1352.5,243.2 1354.5,243.7 1358.5,243.0 1362.5,243.5 1366.5,242.7 1372.5,242.9 1402.0,238.5ZM946.9,284.5 960.5,283.5 982.5,288.9 986.5,290.9 1004.4,304.5 1015.0,318.5 1016.2,320.5 1016.7,322.5 1013.1,336.5 1010.8,340.5 996.5,352.1 972.5,359.3 944.5,362.4 922.5,365.7 896.5,370.8 874.5,373.1 870.5,372.8 852.5,367.1 849.3,364.5 842.5,357.5 840.1,352.5 839.7,346.5 845.4,334.5 846.8,332.5 849.1,330.5 872.9,316.5 910.6,296.5 932.6,286.5 936.5,285.5Z"/>
<path fill="#0080ff" fill-rule="evenodd" d="M1360.5,266.5 1364.5,266.3 1366.6,268.5 1372.5,269.2 1404.5,269.6 1406.5,269.9 1410.5,271.6 1410.5,632.9 1386.5,628.8 1372.5,625.3 1368.5,623.9 1366.5,622.5 1362.5,622.0 1359.4,620.5 1356.5,620.1 1352.8,618.5 1326.5,610.5 1292.5,597.6 1288.5,596.6 1286.5,595.2 1282.4,594.5 1280.5,592.8 1276.5,592.5 1274.5,590.6 1270.5,590.2 1268.3,588.5 1264.5,588.3 1260.5,585.9 1258.5,586.3 1256.5,582.5 1252.3,580.5 1249.9,580.5 1248.4,582.5 1246.5,583.5 1244.5,583.7 1238.5,582.9 1218.5,578.8 1194.5,571.3 1190.5,569.4 1180.5,560.7 1179.2,558.5 1178.9,554.5 1181.4,516.5 1174.1,494.5 1140.5,454.6 1136.5,453.6 1128.5,454.3 1126.5,452.9 1125.8,450.5 1125.4,434.5 1126.5,422.5 1130.1,398.5 1131.4,376.5 1129.2,358.5 1122.7,336.5 1120.4,318.5 1121.3,314.5 1126.8,304.5 1142.5,295.3 1146.5,293.8 1170.5,288.0 1244.5,275.4 1247.8,274.5 1250.5,272.2 1260.5,272.2 1264.5,271.3 1316.5,268.2 1320.5,267.4 1352.5,267.5 1358.5,267.2ZM76.5,270.5 80.5,271.9 84.5,272.5 128.5,275.8 178.5,284.7 204.5,292.7 228.0,304.5 252.5,318.0 278.5,325.8 392.5,339.9 404.5,343.3 426.5,344.8 450.5,349.7 472.5,356.1 476.2,358.5 484.4,370.5 487.1,382.5 490.6,388.5 494.5,392.2 498.3,394.5 503.1,396.5 512.5,399.3 526.5,401.0 542.5,401.7 560.5,400.0 590.5,398.3 624.5,399.5 660.5,404.2 662.5,404.7 665.5,406.5 676.6,416.5 678.1,418.5 678.5,420.5 678.3,428.5 680.5,429.8 681.5,428.5 680.7,422.5 680.9,420.5 685.7,418.5 700.2,414.5 720.5,411.5 746.5,413.3 768.5,420.7 772.5,422.5 780.5,430.2 781.7,432.5 781.8,434.5 780.5,440.9 778.5,445.4 768.5,453.0 764.5,454.1 758.5,454.1 756.5,454.5 754.5,455.7 742.5,465.9 712.5,496.4 702.5,503.6 698.5,505.8 674.5,514.1 638.5,525.0 572.5,551.1 486.5,579.9 480.5,580.6 422.5,583.1 400.5,587.3 380.2,594.5 365.3,600.5 362.3,602.5 361.2,604.5 361.2,606.5 362.3,608.5 394.3,630.5 396.5,633.7 398.9,640.5 398.5,642.5 397.0,644.5 390.5,651.2 387.6,652.5 367.2,658.5 340.5,661.4 326.5,658.9 288.5,653.8 252.5,651.5 200.5,650.1 152.5,645.2 78.5,632.7 76.5,632.2Z"/>
<path fill="#00b8ff" fill-rule="evenodd" d="M1352.0,286.5 1366.5,286.7 1374.5,288.4 1402.5,289.9 1406.5,290.3 1410.5,291.7 1410.5,593.1 1407.7,590.5 1404.5,589.8 1374.5,587.8 1368.5,588.0 1367.3,588.5 1366.5,592.6 1364.5,593.0 1362.0,592.5 1357.7,590.5 1356.5,589.0 1351.8,588.5 1350.5,586.9 1346.5,586.8 1342.5,584.9 1338.5,584.6 1336.5,583.5 1320.5,580.0 1276.5,567.1 1242.5,558.5 1230.3,554.5 1226.5,551.4 1220.5,543.7 1218.8,540.5 1216.4,526.5 1209.9,508.5 1207.6,504.5 1194.0,486.5 1166.5,456.7 1164.5,454.9 1160.5,453.8 1158.5,452.5 1155.0,444.5 1153.8,440.5 1152.8,426.5 1153.7,410.5 1158.9,370.5 1160.3,344.5 1163.1,334.5 1164.5,331.4 1171.3,322.5 1174.5,319.3 1194.5,309.4 1230.5,299.8 1246.5,296.6 1250.5,293.3 1254.5,293.6 1256.5,292.5 1260.5,293.1 1264.5,291.8 1268.5,292.2 1272.5,290.9 1276.5,291.1 1278.5,290.3 1282.5,290.5 1286.5,289.4 1290.5,289.6 1292.5,288.7 1296.5,288.8 1300.5,287.9 1304.5,288.2 1316.5,287.1ZM76.5,292.5 76.5,290.6 78.5,291.5 82.5,292.1 128.5,293.3 164.5,296.9 190.5,307.1 214.5,323.8 228.2,334.5 252.5,344.3 280.5,350.0 328.5,357.1 392.5,370.4 398.5,370.6 410.5,369.7 414.5,370.1 418.5,371.9 426.5,377.0 438.5,385.3 457.9,404.5 462.5,408.1 470.5,413.2 482.5,417.0 496.5,419.2 516.5,420.8 532.5,420.9 548.5,419.8 556.5,421.0 586.5,421.7 590.5,422.4 603.0,430.5 606.5,434.5 611.2,444.5 612.8,452.5 627.5,470.5 630.0,474.5 632.2,484.5 632.4,488.5 630.0,492.5 621.5,502.5 609.7,514.5 604.5,518.1 587.1,526.5 564.5,531.1 559.9,532.5 538.5,541.1 512.5,554.0 482.5,566.4 450.5,569.4 400.5,571.0 378.5,577.6 354.5,583.6 322.5,589.2 278.5,591.0 240.5,588.2 200.1,574.5 176.5,568.7 155.6,564.5 138.5,561.9 134.5,561.7 124.5,563.7 122.2,564.5 119.3,566.5 112.1,572.5 104.5,582.5 96.5,590.6 92.5,592.1 86.5,592.9 80.5,593.3 78.5,592.7 76.5,590.4ZM206.1,604.5 216.5,603.4 240.5,605.4 250.5,610.1 254.1,612.5 256.5,616.1 256.5,618.5 253.6,620.5 240.5,623.8 214.5,626.3 190.5,622.6 181.8,616.5 180.1,614.5 179.3,612.5 179.6,610.5 182.5,608.8 190.9,606.5Z"/>
<path fill="#09f0ee" fill-rule="evenodd" d="M124.7,308.5 130.5,308.4 162.5,311.5 166.5,312.4 190.5,323.3 216.5,342.5 241.0,354.5 278.5,363.2 330.5,371.1 386.5,382.1 405.5,390.5 415.3,396.5 450.5,421.1 464.5,428.3 490.5,436.1 512.5,441.1 536.5,444.3 549.0,444.5 552.5,446.3 558.3,452.5 560.5,453.8 562.5,454.1 570.5,453.4 574.5,454.1 576.8,456.5 582.5,466.6 584.5,471.6 587.4,484.5 585.6,494.5 584.8,496.5 583.1,498.5 572.5,507.6 526.5,528.3 504.5,541.8 482.5,553.4 448.5,559.2 424.5,561.0 400.5,561.5 364.5,571.7 320.5,579.4 290.5,579.4 242.5,573.6 212.5,567.1 166.5,556.3 144.5,551.8 138.5,550.8 118.5,549.2 112.5,549.6 98.5,552.7 81.2,560.5 77.9,562.5 76.5,564.0 76.5,311.4 78.5,312.5 84.5,312.6ZM1327.6,308.5 1350.5,307.7 1372.5,308.5 1402.5,310.5 1406.5,311.1 1410.5,312.7 1410.5,561.5 1406.5,564.4 1374.5,562.7 1348.5,558.6 1324.5,552.6 1302.5,546.0 1250.5,528.5 1248.2,526.5 1245.5,522.5 1236.9,502.5 1234.2,498.5 1218.5,478.5 1196.5,456.4 1193.9,454.5 1188.5,454.0 1186.5,453.2 1184.5,449.8 1178.9,436.5 1175.8,424.5 1175.3,420.5 1176.6,406.5 1180.4,386.5 1186.5,369.6 1192.9,356.5 1196.5,351.2 1204.5,341.7 1218.5,332.4 1247.8,320.5 1252.5,317.1 1262.5,316.4 1264.5,315.2 1268.5,315.1 1272.5,313.9 1274.5,314.0 1278.5,312.6 1282.5,312.4 1286.5,311.5 1288.5,311.8 1292.5,310.6 1296.5,310.9 1300.5,309.8 1304.5,310.1 1306.5,309.5 1310.5,309.6 1314.5,308.8Z"/>
<path fill="#36ffc1" fill-rule="evenodd" d="M138.4,322.5 150.5,322.0 154.5,322.4 176.5,329.0 180.5,330.9 206.5,346.5 226.5,357.5 230.5,358.9 276.5,369.4 328.5,378.4 384.5,390.7 387.4,392.5 390.5,398.1 392.5,399.9 404.5,405.8 452.5,434.8 464.5,440.7 503.5,456.5 515.1,462.5 524.2,468.5 531.6,476.5 533.9,480.5 536.1,486.5 536.8,490.5 536.5,495.3 535.7,498.5 529.9,506.5 511.0,522.5 494.5,533.7 474.5,543.6 446.7,550.5 424.5,553.5 402.5,554.2 398.5,554.9 364.5,564.7 320.5,571.5 290.5,571.6 240.5,566.9 154.5,546.4 126.5,540.9 102.5,540.4 82.4,546.5 78.5,548.3 76.5,550.1 76.5,337.2 77.2,336.5 78.8,332.5 84.5,330.5 114.5,323.5ZM1327.3,332.5 1334.5,332.0 1364.5,332.3 1376.5,333.5 1404.5,337.5 1406.5,337.5 1408.4,336.5 1409.9,332.5 1410.5,332.2 1410.5,547.7 1406.5,550.4 1386.5,548.8 1364.9,544.5 1338.5,536.8 1312.5,525.2 1286.5,512.3 1252.5,496.7 1249.8,494.5 1242.1,482.5 1217.0,454.5 1211.5,446.5 1209.6,442.5 1206.3,430.5 1205.3,412.5 1208.5,396.5 1209.9,392.5 1217.1,378.5 1226.5,364.6 1242.5,353.0 1250.8,348.5 1252.2,346.5 1250.5,344.3 1250.5,342.0 1252.5,340.8 1256.5,340.3 1259.5,340.5 1260.5,341.8 1262.5,342.1 1263.2,340.5 1264.5,340.1 1268.5,340.5 1272.5,338.5 1276.5,338.7 1280.5,337.4 1294.5,334.8Z"/>
<path fill="#63ff94" fill-rule="evenodd" d="M130.6,338.5 152.5,337.0 176.5,341.6 180.5,343.2 203.0,354.5 228.5,365.8 274.9,376.5 328.5,386.2 358.5,393.7 384.5,399.3 386.5,400.6 389.1,404.5 392.5,407.4 406.2,414.5 428.5,429.2 450.5,442.4 478.3,456.5 491.0,464.5 499.7,472.5 505.8,482.5 507.6,488.5 508.4,494.5 508.3,498.5 507.6,500.5 494.7,516.5 490.5,520.3 474.5,530.5 450.5,540.3 426.5,545.3 400.5,549.4 390.5,553.3 386.5,553.7 364.5,559.0 320.5,565.9 290.5,565.9 240.5,561.4 200.5,551.6 156.5,539.5 126.5,533.4 102.5,531.6 76.5,535.2 76.5,359.6 77.8,358.5 78.8,356.5 78.7,350.5 82.1,348.5 114.5,339.8ZM1409.8,350.5 1410.5,349.8 1410.5,535.1 1406.5,535.1 1388.5,531.7 1364.5,525.8 1334.5,513.8 1312.5,502.7 1288.5,488.4 1250.5,458.4 1242.5,454.5 1240.7,452.5 1237.4,440.5 1235.4,428.5 1236.2,410.5 1237.2,404.5 1240.5,394.9 1242.5,390.6 1244.5,388.1 1246.5,386.8 1249.4,386.5 1250.7,384.5 1252.1,378.5 1256.5,375.8 1258.7,372.5 1263.8,368.5 1270.5,364.5 1288.5,357.8 1296.5,356.2 1328.5,352.3 1366.5,352.8 1372.5,354.8 1398.5,359.2 1406.5,359.8 1408.9,358.5 1409.8,356.5Z"/>
<path fill="#94ff63" fill-rule="evenodd" d="M147.3,350.5 154.5,349.7 176.5,352.9 202.5,363.0 230.5,372.8 266.5,379.6 270.5,380.8 274.5,381.0 278.5,382.1 280.5,381.9 284.5,383.2 288.5,383.4 292.5,384.8 296.5,385.1 298.5,385.9 324.5,390.8 328.5,392.3 350.5,397.9 384.5,407.6 386.5,408.7 392.5,414.2 403.6,420.5 426.5,436.5 463.0,458.5 476.5,467.9 484.5,476.7 489.0,484.5 490.6,488.5 491.3,498.5 490.3,500.5 484.5,504.8 472.5,517.6 449.4,530.5 428.5,538.0 412.5,542.7 408.5,544.6 398.5,547.4 396.5,548.7 392.5,549.6 388.5,551.4 386.5,551.1 382.5,552.4 378.5,552.3 356.5,556.8 352.5,556.8 350.5,557.5 318.5,561.2 288.5,561.1 244.5,557.7 230.5,554.8 218.5,551.4 212.5,551.2 210.5,550.2 206.5,549.7 202.5,548.1 198.5,547.5 196.5,546.4 192.5,546.0 190.5,544.9 186.5,544.3 176.5,540.2 174.5,539.9 170.5,538.1 168.5,537.9 152.5,532.3 130.5,526.3 104.5,522.9 80.5,522.8 76.5,522.2 76.5,364.8 78.5,363.8 86.5,361.7 116.5,356.8ZM1407.9,364.5 1410.5,363.5 1410.5,522.7 1372.5,513.2 1350.5,505.4 1326.5,494.7 1300.5,480.5 1280.5,465.9 1268.5,455.9 1266.5,454.5 1262.5,453.4 1261.5,452.5 1261.1,450.5 1262.3,444.5 1261.6,436.5 1263.0,418.5 1269.6,402.5 1272.5,399.3 1275.5,394.5 1284.5,387.2 1298.5,379.4 1304.5,376.9 1312.5,374.9 1334.5,370.8 1364.5,370.0 1374.5,370.8 1394.3,374.5 1400.5,377.2 1401.5,376.5 1400.7,374.5 1401.5,370.5 1405.0,366.5Z"/>
<path fill="#c1ff36" fill-rule="evenodd" d="M151.0,362.5 156.5,362.1 178.5,363.5 228.5,377.9 234.5,379.0 238.5,379.1 242.5,380.3 246.5,380.1 250.5,381.1 252.5,380.8 256.5,381.9 260.5,381.7 262.5,382.4 266.5,382.4 270.5,383.8 274.5,383.8 276.5,384.8 280.5,384.4 284.5,386.1 286.5,385.8 290.5,387.4 294.5,387.4 298.5,388.8 300.5,388.6 304.5,389.9 326.5,393.9 328.5,395.2 332.5,395.7 336.5,397.3 338.5,397.4 342.5,398.9 350.5,400.7 372.6,408.5 384.5,414.1 386.7,416.5 414.5,438.1 449.4,462.5 459.2,470.5 463.2,474.5 470.1,484.5 473.5,494.5 473.6,498.5 472.5,499.3 470.5,499.6 468.5,501.4 464.9,506.5 452.3,516.5 444.5,520.9 440.0,524.5 437.9,528.5 435.5,530.5 428.1,534.5 414.5,539.9 410.5,540.4 408.5,541.6 406.5,541.4 400.5,538.6 398.5,538.9 382.8,544.5 381.3,546.5 382.6,548.5 380.5,549.3 378.5,546.4 376.5,547.4 374.5,550.6 368.5,550.8 366.2,552.5 364.5,552.8 360.5,552.3 356.5,554.2 352.5,553.6 350.5,554.9 346.5,554.3 342.5,555.8 338.5,555.2 336.5,556.1 334.5,556.3 332.5,555.8 328.5,556.9 324.5,556.6 316.5,557.8 304.5,557.3 300.5,557.8 290.5,557.3 286.5,557.8 282.5,557.0 280.5,557.5 276.5,556.5 272.5,557.0 268.5,556.0 266.5,556.5 262.5,555.3 258.5,555.9 254.5,554.9 252.5,555.4 248.5,554.4 244.5,554.8 240.5,553.2 238.5,553.6 236.5,553.1 234.5,551.8 230.5,552.1 226.5,549.9 222.5,550.3 218.5,547.2 216.5,547.4 214.5,548.9 210.5,545.6 208.5,546.8 206.5,546.8 204.5,543.9 200.5,545.4 199.3,544.5 198.5,542.8 196.5,541.7 194.5,543.3 192.5,542.7 190.5,539.8 189.8,540.5 186.5,541.4 184.5,538.8 180.5,539.4 178.5,537.3 174.5,537.3 170.5,535.1 168.5,535.2 164.5,533.2 162.5,533.2 158.5,531.0 155.9,530.5 148.5,527.6 142.5,524.7 139.2,522.5 126.5,517.8 104.5,513.0 80.9,510.5 76.5,509.1 76.5,391.9 80.5,390.6 83.7,388.5 86.7,384.5 87.5,380.5 86.5,376.9 84.5,375.2 81.4,374.5 81.3,372.5 84.5,372.5 86.5,374.0 90.5,374.3 114.5,372.2ZM1348.4,388.5 1374.5,387.1 1404.5,391.7 1408.5,391.7 1410.5,391.0 1410.5,510.3 1402.5,507.5 1374.5,500.0 1348.5,489.5 1324.5,477.4 1306.5,465.5 1294.5,455.7 1292.5,454.4 1288.5,453.7 1286.4,452.5 1286.1,430.5 1294.4,412.5 1295.9,410.5 1308.5,401.3 1314.5,397.6 1324.5,395.0 1338.6,390.5Z"/>
<path fill="#eeff09" fill-rule="evenodd" d="M174.7,380.5 202.5,379.4 238.5,382.7 242.5,384.0 246.5,384.3 248.5,385.4 252.5,385.5 256.5,387.2 260.5,387.4 262.5,388.4 266.5,388.5 270.5,389.7 274.5,389.7 276.5,390.7 280.5,390.5 284.5,392.1 288.5,392.2 290.5,393.1 294.5,393.4 298.5,394.9 302.5,395.1 306.4,396.5 316.5,398.2 342.5,406.4 366.5,416.6 372.5,418.4 378.5,419.4 382.5,419.2 388.3,422.5 390.4,428.5 391.8,430.5 408.5,449.2 442.7,482.5 450.5,493.1 452.5,496.9 452.5,499.6 449.3,502.5 446.6,510.5 443.3,514.5 438.9,518.5 436.5,518.3 434.2,516.5 432.5,513.6 430.5,512.6 422.5,517.5 398.5,534.1 374.5,542.8 342.5,549.9 332.5,551.0 316.5,554.3 310.5,554.0 306.5,554.4 304.5,554.0 300.5,554.6 296.5,554.1 294.5,554.6 290.5,554.1 286.5,554.5 284.5,553.7 280.5,554.0 276.5,552.8 272.5,553.2 270.5,552.3 266.5,552.6 262.5,551.4 258.5,551.8 256.5,551.0 252.5,551.2 248.5,550.1 244.5,550.3 238.5,549.1 234.5,547.2 228.5,545.4 192.5,536.0 168.5,528.0 154.5,521.9 148.5,520.1 144.5,519.9 136.5,517.6 114.5,506.2 96.5,498.5 76.5,493.3 76.5,401.8 80.5,399.8 82.5,399.6 102.5,399.4 123.6,396.5 146.5,387.0 168.5,381.4ZM1409.8,400.5 1410.5,400.1 1410.5,494.2 1382.5,486.2 1362.5,478.9 1342.2,468.5 1332.8,462.5 1322.5,454.6 1316.5,453.9 1314.5,453.3 1313.8,452.5 1313.4,450.5 1313.8,446.5 1312.7,438.5 1314.6,430.5 1314.5,428.3 1322.6,416.5 1324.9,414.5 1344.5,407.7 1354.5,407.9 1366.5,405.7 1404.5,402.4 1406.5,402.1Z"/>
<path fill="#ffcc00" fill-rule="evenodd" d="M182.5,388.5 210.5,387.9 236.5,388.8 280.5,393.6 290.5,396.0 294.5,396.3 314.5,400.5 328.5,404.9 342.5,409.7 368.9,422.5 378.5,429.1 384.5,434.1 388.5,438.7 397.4,454.5 403.3,468.5 410.2,482.5 414.2,492.5 415.5,498.5 415.2,500.5 411.0,510.5 410.2,514.5 408.6,516.5 406.0,518.5 404.8,520.5 400.5,525.0 397.9,528.5 394.5,531.3 372.5,539.9 366.5,541.1 344.5,545.2 316.5,547.9 282.5,547.8 248.5,545.3 218.5,540.4 212.5,538.9 192.5,533.5 168.5,524.9 144.5,512.1 123.7,498.5 104.5,487.4 80.0,478.5 76.5,472.7 76.5,414.4 82.5,415.0 96.5,415.0 116.5,413.7 120.5,413.0 138.5,407.8 142.5,406.0 158.7,396.5 176.5,389.9ZM1406.8,414.5 1410.5,414.7 1410.5,478.0 1408.5,474.2 1406.5,472.0 1387.1,462.5 1372.5,453.4 1371.4,450.5 1371.0,444.5 1371.6,440.5 1372.8,438.5 1381.1,428.5 1392.5,420.3Z"/>
<path fill="#ff9400" fill-rule="evenodd" d="M183.9,396.5 210.5,395.0 240.5,395.6 274.5,398.1 298.5,401.8 310.5,404.9 334.6,412.5 356.9,422.5 359.9,424.5 376.1,438.5 385.2,456.5 385.9,460.5 386.8,482.5 385.4,500.5 381.4,514.5 381.4,516.5 384.5,519.1 385.3,520.5 385.8,522.5 385.2,524.5 383.1,526.5 376.5,529.2 372.5,529.9 368.5,529.1 366.5,529.4 346.5,536.0 322.5,539.8 290.5,540.7 278.5,540.4 256.5,539.1 229.2,536.5 204.5,532.2 197.9,530.5 174.5,522.6 155.4,512.5 136.5,499.8 118.0,484.5 90.5,456.8 86.5,448.5 86.1,446.5 87.3,444.5 96.5,440.1 118.5,436.7 140.5,430.2 154.5,420.5 167.9,404.5 178.9,398.5Z"/>
<path fill="#ff6000" fill-rule="evenodd" d="M204.7,404.5 232.5,402.7 262.5,403.6 293.4,408.5 326.5,418.2 351.1,430.5 366.0,446.5 367.7,450.5 369.8,462.5 369.3,466.5 365.6,480.5 359.4,496.5 357.1,510.5 352.3,520.5 350.5,522.4 348.5,523.4 334.5,529.1 330.5,530.2 308.5,532.9 280.5,533.0 250.5,528.2 202.5,522.2 178.5,515.5 162.5,508.8 156.5,505.2 141.5,492.5 138.3,488.5 130.5,474.5 130.2,470.5 131.5,466.5 140.5,455.2 159.1,442.5 170.8,426.5 183.1,412.5 186.5,410.6 198.5,406.1ZM214.5,450.3 210.5,451.5 203.7,456.5 202.4,458.5 202.8,460.5 205.3,464.5 214.5,473.8 229.7,484.5 232.5,485.6 242.5,487.6 248.5,487.3 260.5,483.4 262.5,481.6 265.7,476.5 266.4,474.5 266.1,472.5 262.5,466.5 260.7,464.5 246.5,455.9 228.5,449.7 224.5,449.3Z"/>
<path fill="#ff2d00" fill-rule="evenodd" d="M233.2,414.5 250.5,413.6 256.5,414.3 288.5,421.1 322.5,431.5 339.2,438.5 342.5,440.6 348.5,448.9 350.4,452.5 350.4,454.5 348.3,462.5 346.5,465.1 338.5,471.8 332.5,475.5 320.5,479.3 306.5,479.9 304.5,479.3 296.5,470.5 283.4,458.5 280.5,456.1 274.5,452.4 256.5,442.3 232.5,433.3 214.5,427.3 212.4,426.5 210.3,424.5 210.5,422.4 220.8,416.5 224.5,415.2ZM169.0,464.5 172.5,464.2 182.5,468.8 199.9,482.5 215.0,496.5 219.0,504.5 218.6,506.5 208.5,509.6 190.5,511.1 170.5,507.0 168.5,506.4 165.7,504.5 154.6,494.5 153.4,492.5 150.2,482.5 149.8,476.5 150.5,473.6 152.5,471.4ZM300.6,486.5 302.5,484.8 304.5,485.0 307.0,488.5 318.4,498.5 321.4,502.5 322.2,506.5 321.6,508.5 317.1,514.5 314.5,516.9 310.8,518.5 296.5,522.5 278.5,522.3 274.5,521.3 262.5,516.4 259.9,514.5 255.3,508.5 255.7,506.5 256.5,506.0 274.5,496.9 294.5,489.8Z"/><use href="#coast"/></g>
<rect x="78.5" y="132.5" width="1331.0" height="655.9" fill="none" stroke="#000" stroke-width="3.33"/>
<text x="743.1" y="107.9" class="tt" style="white-space:pre">Combined (GIM), 2020-04-09 00:00 UT</text>
</g>
<rect x="78.50" y="831.50" width="74.54" height="65.90" fill="#00009f"/>
<rect x="152.44" y="831.50" width="74.54" height="65.90" fill="#0000df"/>
<rect x="226.39" y="831.50" width="74.54" height="65.90" fill="#000cff"/>
<rect x="300.33" y="831.50" width="74.54" height="65.90" fill="#0044ff"/>
<rect x="374.28" y="831.50" width="74.54" height="65.90" fill="#0080ff"/>
<rect x="448.22" y="831.50" width="74.54" height="65.90" fill="#00b8ff"/>
<rect x="522.17" y="831.50" width="74.54" height="65.90" fill="#09f0ee"/>
<rect x="596.11" y="831.50" width="74.54" height="65.90" fill="#36ffc1"/>
<rect x="670.06" y="831.50" width="74.54" height="65.90" fill="#63ff94"/>
<rect x="744.00" y="831.50" width="74.54" height="65.90" fill="#94ff63"/>
<rect x="817.94" y="831.50" width="74.54" height="65.90" fill="#c1ff36"/>
<rect x="891.89" y="831.50" width="74.54" height="65.90" fill="#eeff09"/>
<rect x="965.83" y="831.50" width="74.54" height="65.90" fill="#ffcc00"/>
<rect x="1039.78" y="831.50" width="74.54" height="65.90" fill="#ff9400"/>
<rect x="1113.72" y="831.50" width="74.54" height="65.90" fill="#ff6000"/>
<rect x="1187.67" y="831.50" width="74.54" height="65.90" fill="#ff2d00"/>
<rect x="1261.61" y="831.50" width="74.54" height="65.90" fill="#df0000"/>
<rect x="1335.56" y="831.50" width="74.54" height="65.90" fill="#9f0000"/>
<rect x="78.5" y="831.50" width="1331.0" height="65.90" fill="none" stroke="#000" stroke-width="3.33"/>
<line x1="78.50" x2="78.50" y1="897.40" y2="912.00" stroke="#000" stroke-width="3.33"/>
<text x="78.50" y="959.30" class="tk">0</text>
<line x1="226.39" x2="226.39" y1="897.40" y2="912.00" stroke="#000" stroke-width="3.33"/>
<text x="226.39" y="959.30" class="tk">5</text>
<line x1="374.28" x2="374.28" y1="897.40" y2="912.00" stroke="#000" stroke-width="3.33"/>
<text x="374.28" y="959.30" class="tk">10</text>
<line x1="522.17" x2="522.17" y1="897.40" y2="912.00" stroke="#000" stroke-width="3.33"/>
<text x="522.17" y="959.30" class="tk">15</text>
<line x1="670.06" x2="670.06" y1="897.40" y2="912.00" stroke="#000" stroke-width="3.33"/>
<text x="670.06" y="959.30" class="tk">20</text>
<line x1="817.94" x2="817.94" y1="897.40" y2="912.00" stroke="#000" stroke-width="3.33"/>
<text x="817.94" y="959.30" class="tk">25</text>
<line x1="965.83" x2="965.83" y1="897.40" y2="912.00" stroke="#000" stroke-width="3.33"/>
<text x="965.83" y="959.30" class="tk">30</text>
<line x1="1113.72" x2="1113.72" y1="897.40" y2="912.00" stroke="#000" stroke-width="3.33"/>
<text x="1113.72" y="959.30" class="tk">35</text>
<line x1="1261.61" x2="1261.61" y1="897.40" y2="912.00" stroke="#000" stroke-width="3.33"/>
<text x="1261.61" y="959.30" class="tk">40</text>
<line x1="1409.50" x2="1409.50" y1="897.40" y2="912.00" stroke="#000" stroke-width="3.33"/>
<text x="1409.50" y="959.30" class="tk">45</text>
<g transform="translate(0,985.0)">
<g clip-path="url(#mc)"><rect x="78.5" y="132.5" width="1331.0" height="655.9" fill="#00009f"/>
<path fill="#0000df" fill-rule="evenodd" d="M76.5,130.5 1067.4,130.5 1072.5,139.4 1078.5,146.8 1084.5,151.0 1090.5,152.1 1096.5,150.8 1102.5,147.8 1110.5,142.5 1126.2,130.5 1410.5,130.5 1410.5,788.5 281.5,788.5 249.8,782.5 218.5,778.0 190.5,775.3 164.5,774.2 148.5,774.7 133.0,776.5 114.5,780.7 92.5,788.5 76.5,788.5ZM890.5,162.5 848.5,163.1 800.5,166.3 762.5,171.8 728.5,178.6 696.9,186.5 660.5,197.3 624.5,206.3 558.5,219.5 522.5,225.2 516.5,228.5 512.5,232.5 509.7,236.5 507.5,242.5 507.1,248.5 507.9,252.5 509.5,256.5 512.5,260.9 516.5,264.8 522.5,268.4 558.5,280.6 590.5,285.3 624.5,288.8 652.5,294.0 664.7,298.5 667.5,300.5 667.4,302.5 661.2,308.5 658.5,310.0 642.5,316.4 590.5,326.9 570.5,332.6 564.5,334.7 546.5,343.8 524.5,359.2 520.5,363.3 510.2,380.5 500.5,394.9 499.9,396.5 500.0,398.5 502.5,401.5 506.5,403.4 516.5,406.6 530.5,407.9 538.5,407.3 544.5,405.5 556.5,404.3 590.5,399.2 622.5,397.5 628.5,397.8 660.5,402.7 682.5,404.9 686.5,404.7 712.5,400.9 748.5,401.2 780.5,406.2 798.7,416.5 802.5,419.5 812.5,431.0 813.9,434.5 814.9,444.5 814.4,446.5 812.9,448.5 806.5,454.5 803.5,456.5 794.5,459.6 786.5,459.8 782.5,460.7 764.5,469.6 760.5,473.0 729.1,504.5 712.5,514.6 708.5,515.9 678.5,521.8 642.5,527.3 610.5,535.3 574.5,547.7 538.5,563.1 536.5,563.5 535.3,562.5 532.5,561.5 530.5,561.5 528.5,562.3 526.5,564.2 524.5,567.4 524.5,570.0 526.5,570.5 530.5,570.2 532.5,571.5 533.2,574.5 531.9,578.5 528.5,581.3 517.4,584.5 507.3,588.5 494.3,596.5 492.2,598.5 493.5,600.5 498.5,602.3 506.5,607.0 512.5,609.3 524.5,612.3 554.5,618.2 558.5,618.6 590.5,616.9 622.5,613.7 660.5,606.5 692.5,603.2 698.5,603.4 762.5,609.9 798.5,608.2 834.5,604.6 902.5,599.4 936.5,592.5 963.5,584.5 968.3,580.5 998.5,574.1 1002.5,573.8 1032.5,575.3 1066.5,578.8 1070.5,578.6 1086.5,572.1 1090.5,569.9 1106.5,553.9 1124.4,532.5 1136.6,514.5 1139.7,508.5 1144.7,496.5 1145.0,494.5 1143.9,490.5 1137.7,476.5 1129.8,466.5 1127.0,460.5 1124.5,457.9 1122.6,454.5 1116.5,447.7 1104.4,432.5 1095.3,414.5 1091.9,394.5 1088.4,366.5 1083.2,338.5 1076.5,288.5 1074.5,283.2 1058.9,252.5 1057.6,248.5 1057.9,246.5 1061.1,238.5 1063.5,234.5 1078.7,222.5 1090.1,208.5 1091.8,204.5 1091.7,202.5 1090.5,199.6 1086.5,195.7 1068.5,185.1 1034.5,175.0 1002.5,168.6 964.5,164.7 902.5,162.4ZM1050.5,620.5 1034.5,622.2 1001.0,630.5 972.4,640.5 964.2,644.5 938.5,650.7 832.5,666.8 800.5,673.1 726.5,694.9 660.5,708.1 626.5,713.2 592.5,719.9 570.5,730.3 566.5,732.8 557.5,744.5 556.7,746.5 557.2,750.5 560.5,760.5 562.5,762.6 572.5,769.5 576.5,771.1 608.5,777.2 662.5,782.5 730.5,785.8 814.5,788.1 828.5,787.4 842.5,785.6 856.5,783.0 886.5,776.0 900.5,774.1 908.5,773.8 918.5,774.4 952.5,779.6 966.5,780.6 1000.5,778.9 1032.5,775.7 1080.5,769.0 1116.5,760.2 1142.5,750.8 1146.5,748.7 1160.5,737.8 1162.9,734.5 1165.7,724.5 1165.7,722.5 1164.5,719.8 1157.5,710.5 1154.5,707.6 1122.5,688.4 1108.5,675.0 1106.6,670.5 1103.3,654.5 1099.8,642.5 1097.9,638.5 1084.5,626.5 1080.5,624.5 1062.5,619.4Z"/>
<path fill="#000cff" fill-rule="evenodd" d="M351.9,154.5 422.5,156.8 474.5,159.6 522.5,164.8 528.6,166.5 532.0,168.5 534.5,170.9 536.8,174.5 538.5,180.5 538.6,184.5 537.5,190.5 535.0,196.5 530.9,202.5 526.9,206.5 522.5,209.1 518.5,209.3 440.5,201.0 384.5,205.0 378.5,205.1 374.5,204.1 372.5,204.4 371.8,206.5 372.5,209.1 380.3,226.5 383.6,230.5 404.7,248.5 433.7,264.5 436.5,266.8 442.3,280.5 442.9,284.5 441.0,288.5 432.5,300.5 431.8,302.5 431.8,304.5 432.7,306.5 442.5,320.4 446.5,322.8 470.9,330.5 474.5,332.3 483.5,346.5 484.4,348.5 484.4,350.5 478.1,372.5 479.5,376.5 483.8,382.5 484.3,384.5 483.4,386.5 480.5,389.3 476.5,391.9 472.5,393.6 470.5,393.8 468.5,393.4 467.5,392.5 466.1,390.5 463.8,384.5 462.5,383.0 460.5,382.5 458.5,383.6 457.4,386.5 460.5,400.4 464.5,408.9 467.9,414.5 472.5,416.6 474.1,418.5 481.8,422.5 492.5,427.6 504.5,432.2 518.5,434.8 528.5,434.7 538.5,433.7 566.5,441.7 584.5,449.4 600.5,459.3 608.5,460.3 610.5,461.2 626.5,471.2 644.5,485.5 645.2,486.5 645.2,488.5 638.8,496.5 636.9,498.5 633.9,500.5 606.2,512.5 574.5,525.2 544.5,538.5 536.5,541.5 532.5,543.6 526.7,548.5 522.5,550.7 520.6,552.5 515.2,560.5 513.4,564.5 512.8,568.5 514.2,574.5 512.5,576.4 474.5,580.6 438.5,582.7 406.5,588.2 390.5,596.6 389.1,598.5 390.5,600.4 394.5,602.1 406.5,609.3 440.5,620.5 467.0,630.5 469.8,632.5 483.0,644.5 484.3,646.5 483.6,648.5 476.5,654.5 458.4,672.5 445.2,688.5 444.0,690.5 443.8,692.5 444.4,694.5 450.3,708.5 453.6,726.5 453.5,728.5 452.5,730.5 444.5,738.3 442.5,739.4 404.5,749.7 352.5,754.7 300.5,754.6 198.5,744.4 146.5,739.9 82.5,739.2 80.5,739.6 78.9,740.5 76.5,743.4 76.5,174.0 78.5,174.7 82.5,175.0 148.5,173.2 216.5,166.4 284.5,157.9ZM1305.1,174.5 1344.5,173.4 1402.5,173.3 1406.5,173.7 1410.5,174.9 1410.5,740.0 1406.5,744.2 1404.5,744.8 1378.5,748.0 1346.5,752.8 1312.5,754.7 1282.5,751.0 1259.1,742.5 1228.5,712.2 1208.3,698.5 1190.6,684.5 1176.3,666.5 1166.9,628.5 1165.0,624.5 1152.5,612.1 1136.5,599.4 1134.3,596.5 1128.8,580.5 1128.3,576.5 1135.1,556.5 1148.5,539.7 1168.5,526.1 1185.7,512.5 1187.8,508.5 1191.6,494.5 1187.0,478.5 1184.5,474.8 1170.5,461.1 1168.5,460.1 1160.5,459.9 1158.5,458.9 1156.5,456.2 1144.1,436.5 1135.1,418.5 1128.6,402.5 1128.2,398.5 1131.4,380.5 1130.0,358.5 1124.6,328.5 1121.2,304.5 1122.7,286.5 1124.5,283.3 1134.5,272.2 1137.6,270.5 1158.5,263.2 1190.5,254.1 1213.7,242.5 1229.2,230.5 1232.4,226.5 1236.5,214.8 1237.8,200.5 1238.5,197.8 1240.5,195.1 1251.3,184.5 1254.5,182.9 1276.5,176.8Z"/>
<path fill="#0044ff" fill-rule="evenodd" d="M94.5,252.5 100.5,253.3 130.5,264.9 180.5,274.9 232.5,283.6 279.4,294.5 286.5,296.5 310.5,306.0 327.2,318.5 326.5,320.5 314.5,316.9 302.5,315.2 292.5,314.6 284.5,314.5 280.5,315.2 278.8,316.5 279.5,318.5 283.5,322.5 296.5,333.3 313.8,350.5 319.6,354.5 328.5,358.1 336.5,359.8 344.5,360.1 352.9,358.5 360.5,355.6 364.5,354.9 366.5,355.7 368.5,357.8 378.5,370.0 382.5,372.5 384.5,372.5 386.5,371.5 390.5,366.5 392.0,360.5 390.9,354.5 392.5,354.0 396.5,354.5 406.5,357.7 410.5,359.9 418.5,366.7 421.6,370.5 430.4,392.5 441.4,410.5 447.3,418.5 460.8,430.5 470.5,436.4 490.5,446.4 504.5,454.7 516.5,460.7 528.5,465.5 536.5,467.1 539.3,466.5 540.5,462.5 542.5,460.9 544.5,461.7 556.5,474.1 562.5,485.1 563.0,488.5 562.5,490.1 558.2,498.5 555.1,502.5 530.5,522.5 519.6,532.5 518.7,534.5 520.5,536.5 522.5,540.1 522.5,544.5 521.1,546.5 512.5,550.5 456.5,566.9 358.5,586.5 352.5,587.0 348.5,586.2 330.5,585.8 324.5,586.9 320.8,588.5 318.1,590.5 316.6,592.5 316.1,594.5 316.5,596.5 318.5,598.6 320.5,599.6 324.5,600.3 332.5,599.7 339.2,604.5 351.2,610.5 381.9,622.5 402.5,636.4 408.7,644.5 409.9,646.5 410.2,648.5 409.4,650.5 403.2,658.5 398.5,661.9 380.5,670.6 362.5,676.6 358.5,677.3 332.5,677.1 278.5,667.0 254.5,666.2 248.5,666.5 230.5,670.2 225.0,672.5 222.3,674.5 221.5,676.5 222.3,678.5 228.5,684.7 232.5,687.2 246.5,692.9 252.5,694.9 301.2,704.5 308.5,707.0 312.5,705.2 314.5,704.8 316.5,705.3 317.6,706.5 318.1,708.5 317.6,710.5 316.3,712.5 314.5,713.2 284.5,716.7 232.5,716.7 184.5,715.2 128.5,710.8 80.2,704.5 78.2,702.5 76.5,699.1 76.5,258.5 78.5,253.5 80.5,252.6ZM132.5,563.5 131.4,564.5 131.1,566.5 132.5,573.1 134.5,574.6 146.5,579.2 150.5,580.1 154.5,579.7 162.5,575.9 168.5,574.5 168.0,572.5 155.3,564.5 152.5,563.3 148.5,562.8 134.5,562.9ZM1408.8,254.5 1410.5,252.9 1410.5,704.1 1407.1,698.5 1404.5,696.7 1385.5,690.5 1340.5,671.3 1336.5,669.1 1318.5,657.1 1316.1,654.5 1306.4,640.5 1296.5,614.5 1286.9,598.5 1284.5,596.4 1266.5,584.5 1244.5,577.9 1240.5,577.4 1214.5,580.6 1188.5,581.4 1186.5,581.0 1184.5,579.8 1176.3,572.5 1174.9,570.5 1174.5,568.5 1175.8,558.5 1177.4,554.5 1184.5,542.5 1187.9,538.5 1207.2,526.5 1214.1,520.5 1217.0,516.5 1219.0,512.5 1220.2,508.5 1220.4,502.5 1219.3,496.5 1216.2,488.5 1208.1,472.5 1202.5,462.7 1198.5,458.1 1180.1,442.5 1170.5,427.0 1168.8,422.5 1166.1,408.5 1166.8,404.5 1173.1,386.5 1194.5,337.3 1207.1,318.5 1219.7,302.5 1222.5,299.9 1239.6,288.5 1244.5,286.0 1270.5,276.6 1310.5,269.9 1402.5,260.1 1407.3,258.5Z"/>
<path fill="#0080ff" fill-rule="evenodd" d="M142.4,306.5 148.5,305.0 164.5,304.5 170.5,305.4 180.5,305.1 192.7,308.5 197.1,310.5 208.5,319.4 221.9,332.5 228.5,336.8 244.5,340.2 248.5,341.6 252.5,342.1 264.5,345.6 268.5,346.0 280.5,349.1 288.5,352.1 310.3,364.5 322.5,369.1 338.5,373.9 366.5,379.6 374.5,382.6 382.5,383.9 386.5,386.0 392.5,386.3 394.5,388.0 398.5,389.2 400.5,391.2 404.5,392.3 408.5,395.8 412.6,398.5 416.5,400.1 424.5,405.7 448.5,427.7 458.6,434.5 468.5,442.7 482.3,452.5 489.9,458.5 494.7,462.5 504.5,472.5 510.4,484.5 512.2,496.5 510.6,508.5 505.8,518.5 498.5,527.2 488.5,536.2 482.5,543.2 480.5,544.8 478.5,545.4 458.5,546.1 446.5,549.9 422.5,556.4 406.5,559.9 386.5,563.9 354.5,568.6 318.5,575.9 292.5,582.2 278.5,584.1 266.5,586.8 258.5,586.0 240.5,581.4 208.5,568.7 178.5,559.7 148.5,549.1 132.5,544.4 114.5,544.1 111.9,544.5 98.3,552.5 86.5,561.7 82.9,556.5 80.6,554.5 76.5,552.3 76.5,332.6 78.5,335.8 80.5,337.1 84.5,337.0 94.5,334.6 97.5,332.5 108.6,322.5 122.5,313.9 126.5,312.0ZM1370.3,308.5 1372.5,308.0 1376.5,308.3 1390.5,310.6 1394.5,312.2 1406.5,324.4 1407.5,332.5 1408.4,334.5 1410.5,336.7 1410.5,553.8 1406.5,552.0 1376.5,545.3 1354.5,539.5 1332.5,532.2 1314.5,525.4 1296.5,517.8 1262.5,500.1 1248.5,489.5 1238.0,480.5 1226.9,468.5 1224.3,464.5 1219.5,454.5 1216.6,442.5 1216.4,438.5 1219.3,426.5 1224.5,414.5 1226.8,410.5 1234.5,400.5 1242.5,396.5 1258.5,377.4 1275.2,360.5 1278.5,358.3 1330.5,332.4 1352.5,314.6ZM223.3,598.5 242.5,598.2 246.5,598.6 248.5,599.4 266.5,607.5 274.5,612.5 284.9,620.5 291.4,626.5 292.7,628.5 292.5,629.0 290.5,630.8 276.5,634.3 252.5,638.2 222.5,639.2 198.5,636.3 192.5,635.0 174.5,628.9 167.9,624.5 162.5,622.5 160.7,620.5 160.9,618.5 164.6,612.5 166.5,610.5 168.5,609.7 178.4,606.5 194.5,602.5Z"/>
<path fill="#00b8ff" fill-rule="evenodd" d="M148.4,336.5 150.5,335.6 154.5,335.1 172.5,335.4 184.5,339.8 202.5,347.7 222.5,353.0 225.3,352.5 230.5,348.7 234.5,350.6 238.5,350.4 240.5,351.4 242.5,351.7 244.5,351.0 246.5,351.3 250.5,353.1 252.5,352.9 258.5,355.2 260.5,354.9 263.6,356.5 266.5,359.2 268.5,359.4 272.5,362.6 278.5,363.7 282.5,362.2 286.5,362.4 311.5,372.5 354.5,385.8 372.5,392.1 374.5,392.1 377.0,388.5 380.5,387.2 390.5,391.3 400.8,398.5 402.8,400.5 403.8,402.5 416.5,414.8 430.5,430.5 432.6,430.5 434.5,428.6 436.5,428.7 438.5,430.1 448.5,438.6 458.5,446.1 468.0,454.5 478.9,466.5 485.3,476.5 488.8,486.5 489.7,490.5 490.3,500.5 488.0,510.5 486.3,514.5 482.5,519.7 474.5,526.5 444.5,544.6 434.5,545.1 422.5,546.5 387.5,556.5 320.5,569.9 286.5,572.9 262.5,571.0 194.5,557.2 178.5,552.5 150.5,542.0 132.5,535.8 116.5,532.0 110.5,531.6 94.5,533.2 76.5,538.0 76.5,360.6 78.5,362.8 82.5,363.8 102.5,362.1 116.5,356.3 132.5,345.3ZM1369.4,360.5 1380.5,359.5 1404.5,359.4 1406.5,359.9 1410.5,363.3 1410.5,537.5 1406.5,537.9 1384.5,532.9 1364.5,527.9 1346.5,522.6 1324.5,515.0 1309.0,508.5 1293.0,500.5 1276.0,490.5 1260.6,478.5 1252.1,468.5 1246.9,458.5 1245.4,454.5 1243.5,440.5 1244.5,430.5 1245.5,426.5 1252.0,412.5 1262.4,400.5 1272.5,397.3 1284.5,386.2 1310.5,371.9 1344.5,363.1Z"/>
<path fill="#09f0ee" fill-rule="evenodd" d="M159.3,356.5 168.5,355.1 182.5,356.1 222.5,364.4 224.5,364.4 226.6,360.5 228.5,358.3 230.5,358.0 234.5,359.0 236.5,358.7 240.5,360.3 244.5,360.3 248.5,362.2 252.5,362.4 256.5,364.6 260.5,364.7 264.5,367.2 268.5,367.5 272.5,370.2 276.5,370.5 278.5,372.0 280.5,372.1 284.5,370.9 288.5,371.7 307.0,378.5 354.5,393.6 372.5,400.5 374.5,401.0 378.5,397.3 380.5,396.2 382.5,397.4 384.5,399.6 388.5,401.8 390.5,405.3 394.5,406.8 397.8,410.5 400.5,412.1 406.5,414.5 411.6,418.5 416.5,424.2 417.1,426.5 418.5,428.0 420.5,429.1 422.5,433.6 423.5,434.5 426.5,436.3 428.5,438.5 432.2,440.5 437.0,444.5 454.5,455.0 459.4,464.5 460.9,474.5 466.5,486.3 468.4,492.5 469.4,498.5 469.5,502.5 468.9,506.5 467.5,510.5 460.5,520.4 450.5,527.2 437.9,534.5 414.5,544.6 404.5,544.5 396.5,545.5 384.5,549.6 377.7,550.5 352.5,556.8 322.5,562.3 286.5,564.8 280.5,564.6 268.5,562.9 190.5,548.0 178.5,544.9 166.5,540.9 130.5,526.6 118.5,522.9 108.5,520.6 102.5,520.1 82.5,520.2 80.5,520.6 76.5,523.7 76.5,376.6 78.5,379.0 84.5,378.0 106.5,377.4 110.5,376.8 124.5,371.7 150.5,358.7 154.5,357.3ZM1377.8,376.5 1402.5,375.7 1406.5,376.1 1407.3,376.5 1408.5,378.8 1410.5,378.6 1410.5,521.4 1408.5,523.2 1406.5,523.8 1382.5,519.2 1348.5,510.0 1328.5,502.7 1310.6,494.5 1294.5,484.8 1282.5,475.5 1273.3,464.5 1268.2,454.5 1266.9,450.5 1265.2,438.5 1267.7,424.5 1274.5,412.0 1285.9,400.5 1290.5,399.6 1298.5,400.7 1303.2,400.5 1304.5,400.2 1310.5,395.8 1314.5,393.7 1338.5,383.7 1370.5,377.2Z"/>
<path fill="#36ffc1" fill-rule="evenodd" d="M163.7,368.5 172.5,367.0 186.5,366.8 212.5,370.0 222.5,372.2 224.5,372.0 228.5,369.6 230.5,369.5 234.5,371.1 236.5,370.5 238.5,370.8 240.5,372.0 242.5,372.2 244.5,371.5 246.5,371.9 248.5,373.3 252.5,373.0 256.5,375.1 260.5,374.7 264.5,377.1 268.5,377.0 272.5,379.0 276.5,379.1 278.5,380.2 284.5,378.9 286.5,379.0 324.5,390.9 366.5,405.5 374.5,409.3 376.5,409.7 380.5,409.3 382.5,410.0 386.5,413.6 392.5,416.1 395.6,416.5 404.1,426.5 409.5,436.5 412.5,443.2 419.0,466.5 436.9,492.5 438.4,496.5 439.1,500.5 438.8,504.5 437.5,508.5 430.2,518.5 418.5,527.2 406.7,534.5 385.3,544.5 381.1,544.5 374.5,542.5 372.5,542.6 352.5,549.2 320.5,555.3 284.5,558.2 272.5,556.8 234.5,548.3 187.6,540.5 171.9,536.5 156.5,531.2 124.5,516.2 110.5,511.3 92.5,507.6 82.5,507.0 76.5,507.6 76.5,396.2 78.0,392.5 79.9,390.5 82.5,389.7 106.5,389.8 110.5,389.3 124.5,384.2 140.0,376.5 152.5,371.3 158.5,369.4ZM1409.0,392.5 1410.5,390.8 1410.5,507.2 1404.5,507.3 1378.5,501.9 1360.5,497.4 1342.5,491.8 1326.5,485.3 1312.5,477.9 1307.4,474.5 1296.5,464.6 1289.4,454.5 1286.2,442.5 1287.1,432.5 1288.5,427.9 1296.0,416.5 1305.5,408.5 1318.1,400.5 1322.5,399.6 1338.5,399.0 1360.5,400.0 1374.5,397.2 1396.5,396.1 1400.5,396.2 1406.5,398.1Z"/>
<path fill="#63ff94" fill-rule="evenodd" d="M168.5,376.5 178.5,374.9 192.5,374.6 210.5,375.9 222.5,377.7 228.5,375.3 230.5,375.9 232.5,377.4 236.5,376.8 240.5,378.7 244.5,377.9 248.5,380.0 252.5,379.5 256.5,381.5 260.5,381.1 262.5,382.6 264.5,383.2 268.5,383.0 270.5,384.5 276.5,385.2 278.5,386.7 280.5,386.8 284.5,386.0 288.5,386.6 338.5,402.8 354.8,408.5 374.5,416.7 376.5,417.0 378.5,416.1 380.5,416.8 384.2,422.5 388.5,426.9 392.5,432.5 397.4,444.5 399.6,452.5 400.5,462.5 400.1,472.5 400.5,484.5 403.5,504.5 402.3,516.5 396.6,526.5 392.7,530.5 382.5,537.0 379.7,536.5 376.5,532.3 334.5,545.8 302.5,551.1 276.5,550.9 234.5,541.0 190.5,534.2 170.5,529.3 152.5,522.6 108.5,499.8 94.5,495.5 82.5,492.7 80.5,491.8 76.5,487.3 76.5,405.2 78.5,404.3 82.5,401.3 84.5,401.0 110.5,402.8 116.5,401.9 130.5,395.9 159.6,378.5ZM1409.0,404.5 1410.5,403.7 1410.5,490.8 1408.5,488.2 1405.7,486.5 1380.5,481.4 1366.5,477.9 1350.5,473.2 1336.5,467.7 1322.5,459.4 1315.4,450.5 1314.5,448.2 1313.4,440.5 1314.4,436.5 1318.0,430.5 1319.9,428.5 1329.4,422.5 1346.5,415.6 1364.5,411.1 1390.5,406.8 1406.5,405.5Z"/>
<path fill="#94ff63" fill-rule="evenodd" d="M197.1,382.5 212.5,382.5 220.5,383.4 228.5,382.3 232.5,383.1 236.5,383.2 238.5,384.2 244.5,384.5 246.5,385.4 258.5,387.2 262.5,388.6 266.5,388.9 270.5,390.8 274.5,391.1 276.5,391.9 278.5,393.3 286.5,393.1 352.5,415.4 366.5,421.5 370.5,423.9 379.0,432.5 382.7,440.5 383.9,444.5 385.1,452.5 385.3,460.5 384.5,464.7 382.5,465.6 376.5,466.3 374.3,468.5 371.1,484.5 374.3,502.5 373.3,506.5 369.3,516.5 367.0,520.5 346.5,533.1 320.5,541.4 286.5,545.0 278.5,544.5 248.5,537.2 234.5,534.4 190.5,528.0 170.5,522.9 156.2,516.5 141.6,508.5 108.5,486.5 94.5,479.4 82.6,474.5 79.8,472.5 78.7,470.5 76.5,462.9 76.5,422.3 80.5,422.7 82.5,421.7 83.7,420.5 84.5,415.7 100.5,416.8 116.5,419.0 130.5,415.8 136.5,412.7 158.9,396.5 170.5,389.2 182.6,384.5ZM228.5,460.2 218.5,468.5 218.6,470.5 223.2,476.5 225.2,478.5 228.5,480.4 238.5,484.3 244.5,485.1 248.5,484.2 256.2,480.5 259.9,478.5 261.8,476.5 262.6,474.5 262.1,472.5 252.5,467.3 243.8,460.5 240.5,459.2 236.5,458.5 232.5,458.8ZM1404.0,422.5 1406.5,422.2 1410.5,422.9 1410.5,472.0 1407.2,462.5 1404.9,460.5 1398.4,456.5 1392.4,450.5 1389.7,446.5 1388.5,442.5 1389.2,436.5 1391.7,432.5 1399.8,424.5Z"/>
<path fill="#c1ff36" fill-rule="evenodd" d="M202.1,390.5 210.5,389.6 222.5,390.1 228.5,388.8 230.5,389.1 232.5,390.1 236.5,389.9 240.5,391.1 244.5,390.9 248.5,392.6 252.5,392.6 256.5,394.2 260.5,394.4 264.5,396.3 268.5,396.6 270.5,398.1 276.5,399.2 278.5,400.6 286.5,400.9 337.0,418.5 352.4,424.5 355.9,426.5 364.5,433.4 367.0,436.5 368.9,440.5 370.5,446.5 370.7,450.5 370.2,454.5 368.9,458.5 366.5,462.7 364.8,464.5 358.8,466.5 342.5,475.9 340.5,476.2 337.9,472.5 332.8,468.5 330.5,467.9 328.5,468.3 318.9,476.5 316.5,482.2 314.5,483.0 308.5,484.1 302.5,484.7 300.5,484.4 298.5,482.7 292.2,474.5 282.5,467.7 278.0,462.5 276.5,461.7 272.5,460.0 256.5,455.3 240.5,451.2 224.5,448.7 210.5,448.7 202.2,450.5 196.5,452.4 193.9,454.5 192.7,456.5 192.3,458.5 192.6,460.5 198.4,470.5 202.9,476.5 216.5,488.1 226.5,494.9 230.5,496.4 242.5,499.3 256.5,498.4 284.5,491.2 294.5,487.3 298.5,487.1 300.5,489.9 301.3,492.5 305.4,510.5 310.8,526.5 312.5,528.1 314.5,528.2 316.5,527.6 322.5,524.2 334.5,515.9 335.2,518.5 335.2,522.5 334.7,524.5 333.4,526.5 329.8,528.5 316.5,533.2 310.5,533.3 308.5,534.3 304.5,533.7 300.5,535.2 296.5,535.5 290.5,537.1 280.5,537.1 266.4,534.5 236.5,527.5 210.5,524.8 190.5,521.7 172.1,516.5 158.2,508.5 154.5,506.0 145.8,498.5 133.5,486.5 124.9,474.5 123.7,468.5 124.7,464.5 122.5,465.3 120.5,464.6 118.5,460.6 118.2,456.5 120.1,452.5 122.5,450.5 138.6,442.5 148.5,438.3 151.2,436.5 156.7,428.5 162.1,416.5 167.6,408.5 171.2,404.5 178.5,398.2 182.5,395.8 191.3,392.5ZM331.9,482.5 334.5,481.5 336.5,481.3 338.0,482.5 337.8,484.5 336.5,488.1 333.5,492.5 333.6,494.5 335.9,498.5 337.7,504.5 337.9,506.5 336.5,512.3 335.7,510.5 334.5,509.9 332.5,507.4 329.9,502.5 326.2,498.5 319.0,486.5 318.4,484.5 320.5,482.8 322.5,482.6 326.5,484.7 328.5,484.6Z"/>
<path fill="#eeff09" fill-rule="evenodd" d="M225.8,396.5 230.5,396.4 244.5,398.3 260.5,402.1 278.5,408.1 287.9,410.5 310.0,418.5 324.6,424.5 337.9,430.5 347.3,436.5 349.0,438.5 351.0,442.5 351.8,446.5 351.3,450.5 350.3,452.5 346.7,456.5 344.0,458.5 339.7,460.5 326.5,463.4 322.5,464.8 314.5,464.6 286.5,458.7 276.7,454.5 274.5,452.8 272.5,452.3 268.5,452.8 264.5,450.6 260.5,450.6 256.5,448.7 252.5,448.7 248.5,446.9 244.5,446.7 240.5,445.2 238.5,445.2 232.5,443.3 230.5,443.3 222.5,440.0 208.4,436.5 194.5,431.4 187.8,424.5 185.5,420.5 185.0,414.5 186.5,410.2 190.5,405.6 198.5,400.9 208.5,397.8ZM168.0,472.5 170.5,472.2 174.5,473.7 182.7,478.5 192.5,486.6 196.4,490.5 202.8,498.5 205.0,502.5 205.6,504.5 205.5,506.5 202.5,508.4 196.5,510.0 190.5,510.5 178.5,508.2 168.6,502.5 166.2,500.5 158.4,492.5 154.2,486.5 152.4,482.5 152.1,478.5 154.5,476.0 160.5,474.8ZM279.0,514.5 282.5,513.3 286.5,513.3 289.1,514.5 290.5,516.3 290.2,518.5 288.5,520.3 286.5,521.2 282.5,521.5 280.5,521.0 277.6,518.5 277.4,516.5Z"/>
<path fill="#ffcc00" fill-rule="evenodd" d="M221.5,406.5 228.5,405.1 242.5,405.8 252.5,408.2 256.5,408.6 268.5,413.3 272.5,414.3 278.5,416.9 301.5,430.5 303.3,432.5 303.8,434.5 303.4,436.5 302.1,438.5 300.5,439.6 296.5,440.5 276.5,439.1 256.5,436.7 240.5,433.4 226.5,429.5 214.5,424.5 211.0,422.5 208.5,419.6 207.3,416.5 207.5,414.5 208.5,412.8 210.5,411.2Z"/><use href="#coast"/></g>
<rect x="78.5" y="132.5" width="1331.0" height="655.9" fill="none" stroke="#000" stroke-width="3.33"/>
<text x="743.1" y="107.9" class="tt" style="white-space:pre">Ionosphere  (h=450.0 km), 2020-04-09 00:00 UT</text>
</g>
<rect x="78.50" y="1816.50" width="74.54" height="65.90" fill="#00009f"/>
<rect x="152.44" y="1816.50" width="74.54" height="65.90" fill="#0000df"/>
<rect x="226.39" y="1816.50" width="74.54" height="65.90" fill="#000cff"/>
<rect x="300.33" y="1816.50" width="74.54" height="65.90" fill="#0044ff"/>
<rect x="374.28" y="1816.50" width="74.54" height="65.90" fill="#0080ff"/>
<rect x="448.22" y="1816.50" width="74.54" height="65.90" fill="#00b8ff"/>
<rect x="522.17" y="1816.50" width="74.54" height="65.90" fill="#09f0ee"/>
<rect x="596.11" y="1816.50" width="74.54" height="65.90" fill="#36ffc1"/>
<rect x="670.06" y="1816.50" width="74.54" height="65.90" fill="#63ff94"/>
<rect x="744.00" y="1816.50" width="74.54" height="65.90" fill="#94ff63"/>
<rect x="817.94" y="1816.50" width="74.54" height="65.90" fill="#c1ff36"/>
<rect x="891.89" y="1816.50" width="74.54" height="65.90" fill="#eeff09"/>
<rect x="965.83" y="1816.50" width="74.54" height="65.90" fill="#ffcc00"/>
<rect x="1039.78" y="1816.50" width="74.54" height="65.90" fill="#ff9400"/>
<rect x="1113.72" y="1816.50" width="74.54" height="65.90" fill="#ff6000"/>
<rect x="1187.67" y="1816.50" width="74.54" height="65.90" fill="#ff2d00"/>
<rect x="1261.61" y="1816.50" width="74.54" height="65.90" fill="#df0000"/>
<rect x="1335.56" y="1816.50" width="74.54" height="65.90" fill="#9f0000"/>
<rect x="78.5" y="1816.50" width="1331.0" height="65.90" fill="none" stroke="#000" stroke-width="3.33"/>
<line x1="78.50" x2="78.50" y1="1882.40" y2="1897.00" stroke="#000" stroke-width="3.33"/>
<text x="78.50" y="1944.30" class="tk">0</text>
<line x1="226.39" x2="226.39" y1="1882.40" y2="1897.00" stroke="#000" stroke-width="3.33"/>
<text x="226.39" y="1944.30" class="tk">5</text>
<line x1="374.28" x2="374.28" y1="1882.40" y2="1897.00" stroke="#000" stroke-width="3.33"/>
<text x="374.28" y="1944.30" class="tk">10</text>
<line x1="522.17" x2="522.17" y1="1882.40" y2="1897.00" stroke="#000" stroke-width="3.33"/>
<text x="522.17" y="1944.30" class="tk">15</text>
<line x1="670.06" x2="670.06" y1="1882.40" y2="1897.00" stroke="#000" stroke-width="3.33"/>
<text x="670.06" y="1944.30" class="tk">20</text>
<line x1="817.94" x2="817.94" y1="1882.40" y2="1897.00" stroke="#000" stroke-width="3.33"/>
<text x="817.94" y="1944.30" class="tk">25</text>
<line x1="965.83" x2="965.83" y1="1882.40" y2="1897.00" stroke="#000" stroke-width="3.33"/>
<text x="965.83" y="1944.30" class="tk">30</text>
<line x1="1113.72" x2="1113.72" y1="1882.40" y2="1897.00" stroke="#000" stroke-width="3.33"/>
<text x="1113.72" y="1944.30" class="tk">35</text>
<line x1="1261.61" x2="1261.61" y1="1882.40" y2="1897.00" stroke="#000" stroke-width="3.33"/>
<text x="1261.61" y="1944.30" class="tk">40</text>
<line x1="1409.50" x2="1409.50" y1="1882.40" y2="1897.00" stroke="#000" stroke-width="3.33"/>
<text x="1409.50" y="1944.30" class="tk">45</text>
<g transform="translate(0,1970.0)">
<g clip-path="url(#mc)"><rect x="78.5" y="132.5" width="1331.0" height="655.9" fill="#0000df"/>
<path fill="#0080ff" fill-rule="evenodd" d="M934.1,238.5 970.5,237.5 1018.5,240.2 1192.5,257.6 1196.5,258.2 1200.5,259.4 1242.5,261.9 1292.5,265.6 1352.5,271.6 1410.5,278.3 1410.5,592.3 1406.5,591.4 1376.5,593.1 1336.5,592.4 1282.5,587.6 1276.5,587.5 1264.5,584.5 1260.5,584.0 1235.6,576.5 1230.5,575.5 1228.9,574.5 1224.5,573.6 1222.9,572.5 1207.6,566.5 1186.5,558.7 1182.5,558.0 1172.5,553.2 1148.5,548.4 1142.5,548.0 1114.5,550.6 1093.8,558.5 1089.6,560.5 1081.2,566.5 1070.5,575.5 1058.5,586.8 1052.5,589.1 1032.5,602.5 992.5,611.4 936.5,613.7 882.5,613.8 876.5,614.2 826.5,620.5 770.5,628.9 714.5,639.4 658.5,651.3 612.5,659.8 562.5,663.4 530.5,662.3 522.5,662.7 514.5,661.5 490.5,655.5 456.5,646.0 422.5,637.5 388.5,630.7 352.5,625.2 320.5,618.2 260.5,598.8 254.5,597.5 232.5,595.2 212.5,596.8 180.5,603.2 160.5,606.1 154.5,606.5 128.5,605.3 106.5,601.5 82.5,598.7 81.8,598.5 80.6,596.5 80.5,594.5 79.7,592.5 76.5,591.5 76.5,277.9 82.5,278.6 112.5,279.5 144.5,283.3 150.5,284.7 176.5,293.2 198.5,304.3 218.1,320.5 232.9,338.5 246.5,357.2 248.5,358.7 262.5,365.7 266.5,366.2 285.8,362.5 305.7,352.5 326.5,340.5 354.5,331.8 388.5,326.7 456.5,319.9 494.5,314.4 556.5,308.2 590.5,303.1 623.9,296.5 650.2,290.5 728.5,271.0 782.5,259.7 792.5,256.9 812.5,252.5 866.5,243.7 920.5,239.0Z"/>
<path fill="#36ffc1" fill-rule="evenodd" d="M957.9,272.5 966.5,272.2 976.5,274.1 986.5,274.2 990.5,274.9 994.5,274.6 1000.5,275.2 1034.5,285.0 1038.5,287.5 1042.5,288.2 1058.5,294.4 1066.0,298.5 1083.4,310.5 1088.9,320.5 1089.1,322.5 1088.1,324.5 1081.3,332.5 1079.0,334.5 1058.4,346.5 1010.5,370.5 992.5,380.9 988.5,383.8 976.5,394.3 974.6,396.5 973.7,398.5 970.8,408.5 970.3,412.5 975.0,440.5 983.1,466.5 1004.5,515.6 1006.1,522.5 1007.3,538.5 1006.5,541.7 1001.4,554.5 1000.1,556.5 998.5,557.6 988.5,562.6 984.5,563.5 970.5,563.8 918.5,560.6 884.5,560.6 870.5,562.0 866.5,561.0 862.5,562.4 860.5,562.3 856.5,563.4 852.5,563.5 842.5,565.9 838.5,566.3 828.5,568.7 818.5,570.3 808.5,573.0 804.5,573.5 800.5,574.9 798.5,575.0 794.5,576.5 790.5,576.8 780.5,579.8 770.5,581.3 766.5,582.8 756.5,584.4 746.5,587.1 738.5,587.8 612.5,615.0 564.5,620.5 526.5,621.8 522.5,621.1 522.0,620.5 521.5,616.5 518.5,614.5 458.5,600.9 422.5,593.7 354.5,583.5 320.5,577.4 250.5,562.8 216.5,560.0 180.5,561.7 146.5,561.0 120.5,558.4 94.5,554.8 80.5,556.0 76.5,559.8 76.5,308.2 112.5,306.1 144.5,309.2 149.4,310.5 168.5,318.7 174.2,322.5 188.5,335.8 198.6,352.5 208.6,372.5 222.9,390.5 240.5,401.1 243.7,402.5 268.5,404.2 302.5,399.0 404.5,373.6 472.5,359.9 514.5,355.1 518.5,354.4 524.5,351.6 528.5,350.8 558.5,347.6 624.5,337.7 692.5,324.2 836.5,288.4 856.5,285.5 858.6,284.5 868.6,282.5 876.5,281.6 880.3,280.5 907.9,276.5 920.5,275.8 926.5,275.2 928.7,274.5 954.5,273.5ZM1267.6,300.5 1312.5,299.8 1362.5,303.1 1404.5,308.0 1410.5,307.9 1410.5,556.6 1406.5,560.4 1362.5,560.6 1330.5,558.4 1258.5,547.7 1224.5,539.1 1154.5,511.4 1120.5,504.7 1090.5,501.3 1068.5,495.3 1066.5,494.5 1064.5,492.6 1058.5,483.1 1057.7,480.5 1057.9,478.5 1061.5,466.5 1063.4,462.5 1080.5,445.6 1104.5,428.3 1122.6,410.5 1124.5,408.0 1126.0,404.5 1130.6,390.5 1131.4,386.5 1129.9,368.5 1128.5,364.1 1111.8,332.5 1111.1,328.5 1111.7,326.5 1113.3,324.5 1128.5,316.5 1132.5,315.0 1166.5,308.2 1208.5,303.0Z"/>
<path fill="#c1ff36" fill-rule="evenodd" d="M1273.9,328.5 1312.5,329.3 1346.5,336.2 1404.5,354.2 1406.5,354.4 1410.5,350.0 1410.5,515.4 1406.5,516.8 1402.5,517.4 1390.5,518.5 1386.5,517.9 1372.5,514.9 1356.5,505.4 1354.0,502.5 1345.8,488.5 1344.5,484.5 1341.8,470.5 1336.5,453.3 1334.5,450.9 1327.0,444.5 1324.5,442.9 1322.5,442.4 1304.5,441.1 1300.5,441.9 1284.5,447.4 1280.5,449.6 1266.5,459.5 1252.5,474.9 1248.5,477.1 1234.5,482.3 1214.5,480.6 1210.5,478.2 1200.5,470.2 1193.4,456.5 1191.8,452.5 1190.1,424.5 1189.4,398.5 1189.9,372.5 1190.7,368.5 1196.3,354.5 1197.8,352.5 1200.3,350.5 1211.9,342.5 1216.5,340.2 1242.5,332.3ZM109.2,340.5 120.5,338.9 134.5,340.2 138.5,341.6 148.5,347.8 151.3,350.5 160.5,366.0 170.8,386.5 185.2,404.5 206.5,418.4 230.5,426.0 234.5,426.8 268.5,427.7 370.5,419.9 406.1,414.5 440.5,405.9 472.5,399.5 514.5,396.3 524.5,394.1 532.5,393.1 556.5,391.7 592.5,391.8 618.5,394.5 632.5,399.9 636.9,402.5 643.5,410.5 644.6,414.5 644.4,424.5 639.3,442.5 625.4,484.5 622.2,506.5 621.9,532.5 620.7,542.5 619.9,544.5 614.4,550.5 610.5,553.3 590.5,558.2 556.5,561.6 520.5,563.1 474.5,562.4 340.5,556.1 302.5,551.4 232.5,539.9 164.5,533.1 136.5,525.4 112.5,516.9 94.5,513.8 90.5,513.6 82.5,514.7 76.5,516.6 76.5,353.8 78.9,350.5 81.7,348.5 98.1,342.5Z"/>
<path fill="#ff9400" fill-rule="evenodd" d="M174.3,446.5 198.5,445.8 232.5,448.4 266.5,449.1 304.5,447.5 336.5,449.2 370.5,454.2 388.5,456.0 406.5,454.2 440.5,449.1 468.5,447.6 484.5,451.0 487.0,452.5 494.5,459.0 499.5,460.5 500.9,462.5 501.5,474.5 501.3,476.5 499.7,480.5 492.9,492.5 489.3,496.5 474.5,508.1 450.4,518.5 420.5,524.0 354.5,529.9 326.5,530.6 292.5,528.3 256.5,523.6 194.5,513.9 189.0,512.5 172.1,506.5 166.5,503.9 152.0,490.5 146.5,474.5 146.5,470.5 148.5,461.4 151.3,458.5 160.5,451.1Z"/><use href="#coast"/></g>
<rect x="78.5" y="132.5" width="1331.0" height="655.9" fill="none" stroke="#000" stroke-width="3.33"/>
<text x="743.1" y="107.9" class="tt" style="white-space:pre">Plasmasphere (h=1500.0 km), 2020-04-09 00:00 UT</text>
</g>
<rect x="78.50" y="2801.50" width="222.43" height="65.90" fill="#0000df"/>
<rect x="300.33" y="2801.50" width="222.43" height="65.90" fill="#0080ff"/>
<rect x="522.17" y="2801.50" width="222.43" height="65.90" fill="#36ffc1"/>
<rect x="744.00" y="2801.50" width="222.43" height="65.90" fill="#c1ff36"/>
<rect x="965.83" y="2801.50" width="222.43" height="65.90" fill="#ff9400"/>
<rect x="1187.67" y="2801.50" width="222.43" height="65.90" fill="#df0000"/>
<rect x="78.5" y="2801.50" width="1331.0" height="65.90" fill="none" stroke="#000" stroke-width="3.33"/>
<line x1="78.50" x2="78.50" y1="2867.40" y2="2882.00" stroke="#000" stroke-width="3.33"/>
<text x="78.50" y="2929.30" class="tk">0.0</text>
<line x1="300.33" x2="300.33" y1="2867.40" y2="2882.00" stroke="#000" stroke-width="3.33"/>
<text x="300.33" y="2929.30" class="tk">2.5</text>
<line x1="522.17" x2="522.17" y1="2867.40" y2="2882.00" stroke="#000" stroke-width="3.33"/>
<text x="522.17" y="2929.30" class="tk">5.0</text>
<line x1="744.00" x2="744.00" y1="2867.40" y2="2882.00" stroke="#000" stroke-width="3.33"/>
<text x="744.00" y="2929.30" class="tk">7.5</text>
<line x1="965.83" x2="965.83" y1="2867.40" y2="2882.00" stroke="#000" stroke-width="3.33"/>
<text x="965.83" y="2929.30" class="tk">10.0</text>
<line x1="1187.67" x2="1187.67" y1="2867.40" y2="2882.00" stroke="#000" stroke-width="3.33"/>
<text x="1187.67" y="2929.30" class="tk">12.5</text>
<line x1="1409.50" x2="1409.50" y1="2867.40" y2="2882.00" stroke="#000" stroke-width="3.33"/>
<text x="1409.50" y="2929.30" class="tk">15.0</text>
</svg></body></html>
